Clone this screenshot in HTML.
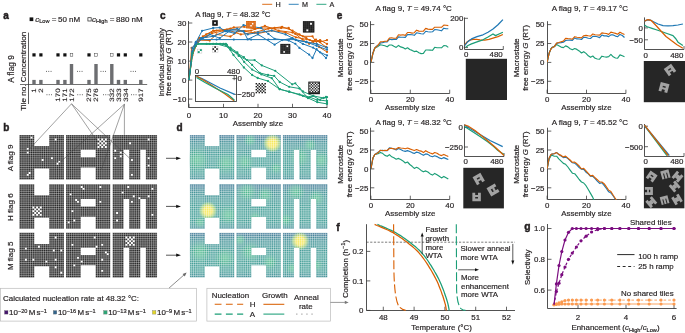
<!DOCTYPE html>
<html><head><meta charset="utf-8"><style>
html,body{margin:0;padding:0;background:#fff;}
svg{display:block;font-family:"Liberation Sans", sans-serif;will-change:transform;}
</style></head><body>
<svg width="685" height="333" viewBox="0 0 685 333">
<rect width="685" height="333" fill="#fff"/>
<text x="3.2" y="19" font-size="10" text-anchor="start" font-weight="bold" stroke="#231f20" stroke-width="0.45" fill="#231f20">a</text>
<rect x="29.6" y="17.4" width="3.7" height="3.7" fill="#111"/>
<text x="35.2" y="21.6" font-size="8" text-anchor="start" stroke="#231f20" stroke-width="0.18" fill="#231f20"><tspan font-style="italic">c</tspan><tspan font-size="5.6" dy="1.8">Low</tspan><tspan dy="-1.8" dx="0.6"> = 50 nM</tspan></text>
<rect x="87.9" y="17.7" width="3.3" height="3.3" fill="none" stroke="#333" stroke-width="0.75"/>
<text x="92.0" y="21.6" font-size="8" text-anchor="start" stroke="#231f20" stroke-width="0.18" fill="#231f20"><tspan font-style="italic">c</tspan><tspan font-size="5.6" dy="1.8">High</tspan><tspan dy="-1.8" dx="0.6"> = 880 nM</tspan></text>
<line x1="28.5" y1="32.6" x2="28.5" y2="104" stroke="#333" stroke-width="0.8"/>
<line x1="20" y1="84.5" x2="147.2" y2="84.5" stroke="#333" stroke-width="0.7"/>
<text x="26.1" y="82.2" font-size="8.1" text-anchor="start" stroke="#231f20" stroke-width="0.18" fill="#231f20" transform="rotate(-90 26.1 82.2)">Concentration</text>
<text x="26.1" y="110.8" font-size="8.1" text-anchor="start" stroke="#231f20" stroke-width="0.18" fill="#231f20" transform="rotate(-90 26.1 110.8)">Tile no.</text>
<text x="14.2" y="82.8" font-size="8.3" text-anchor="start" stroke="#231f20" stroke-width="0.18" fill="#231f20" transform="rotate(-90 14.2 82.8)">A flag 9</text>
<rect x="32.3" y="79.9" width="3.4" height="4.5" fill="#6d6e71"/>
<rect x="32.4" y="53.3" width="3.2" height="3.2" fill="#111"/>
<text x="0" y="0" font-size="6.3" text-anchor="end" fill="#231f20" stroke="#231f20" stroke-width="0.12" text-rendering="geometricPrecision" transform="translate(36.3 88.4) rotate(-90) scale(1.27 1)">1</text>
<rect x="39.2" y="79.9" width="3.4" height="4.5" fill="#6d6e71"/>
<rect x="39.3" y="53.3" width="3.2" height="3.2" fill="#111"/>
<text x="0" y="0" font-size="6.3" text-anchor="end" fill="#231f20" stroke="#231f20" stroke-width="0.12" text-rendering="geometricPrecision" transform="translate(43.2 88.4) rotate(-90) scale(1.27 1)">2</text>
<rect x="56.3" y="79.9" width="3.4" height="4.5" fill="#6d6e71"/>
<rect x="56.4" y="53.3" width="3.2" height="3.2" fill="#111"/>
<text x="0" y="0" font-size="6.3" text-anchor="end" fill="#231f20" stroke="#231f20" stroke-width="0.12" text-rendering="geometricPrecision" transform="translate(60.3 88.4) rotate(-90) scale(1.27 1)">170</text>
<rect x="63.2" y="79.9" width="3.4" height="4.5" fill="#6d6e71"/>
<rect x="63.3" y="53.3" width="3.2" height="3.2" fill="#111"/>
<text x="0" y="0" font-size="6.3" text-anchor="end" fill="#231f20" stroke="#231f20" stroke-width="0.12" text-rendering="geometricPrecision" transform="translate(67.2 88.4) rotate(-90) scale(1.27 1)">171</text>
<rect x="69.8" y="64" width="3.4" height="20.4" fill="#6d6e71"/>
<rect x="70.2" y="53.6" width="2.6" height="2.6" fill="none" stroke="#444" stroke-width="0.5"/>
<text x="0" y="0" font-size="6.3" text-anchor="end" fill="#231f20" stroke="#231f20" stroke-width="0.12" text-rendering="geometricPrecision" transform="translate(73.8 88.4) rotate(-90) scale(1.27 1)">172</text>
<rect x="87.3" y="79.9" width="3.4" height="4.5" fill="#6d6e71"/>
<rect x="87.4" y="53.3" width="3.2" height="3.2" fill="#111"/>
<text x="0" y="0" font-size="6.3" text-anchor="end" fill="#231f20" stroke="#231f20" stroke-width="0.12" text-rendering="geometricPrecision" transform="translate(91.3 88.4) rotate(-90) scale(1.27 1)">275</text>
<rect x="94.3" y="64" width="3.4" height="20.4" fill="#6d6e71"/>
<rect x="94.7" y="53.6" width="2.6" height="2.6" fill="none" stroke="#444" stroke-width="0.5"/>
<text x="0" y="0" font-size="6.3" text-anchor="end" fill="#231f20" stroke="#231f20" stroke-width="0.12" text-rendering="geometricPrecision" transform="translate(98.3 88.4) rotate(-90) scale(1.27 1)">276</text>
<rect x="110.1" y="64" width="3.4" height="20.4" fill="#6d6e71"/>
<rect x="110.5" y="53.6" width="2.6" height="2.6" fill="none" stroke="#444" stroke-width="0.5"/>
<text x="0" y="0" font-size="6.3" text-anchor="end" fill="#231f20" stroke="#231f20" stroke-width="0.12" text-rendering="geometricPrecision" transform="translate(114.1 88.4) rotate(-90) scale(1.27 1)">332</text>
<rect x="116.8" y="79.9" width="3.4" height="4.5" fill="#6d6e71"/>
<rect x="116.9" y="53.3" width="3.2" height="3.2" fill="#111"/>
<text x="0" y="0" font-size="6.3" text-anchor="end" fill="#231f20" stroke="#231f20" stroke-width="0.12" text-rendering="geometricPrecision" transform="translate(120.8 88.4) rotate(-90) scale(1.27 1)">333</text>
<rect x="123.6" y="79.9" width="3.4" height="4.5" fill="#6d6e71"/>
<rect x="123.7" y="53.3" width="3.2" height="3.2" fill="#111"/>
<text x="0" y="0" font-size="6.3" text-anchor="end" fill="#231f20" stroke="#231f20" stroke-width="0.12" text-rendering="geometricPrecision" transform="translate(127.6 88.4) rotate(-90) scale(1.27 1)">334</text>
<rect x="139.1" y="79.9" width="3.4" height="4.5" fill="#6d6e71"/>
<rect x="139.2" y="53.3" width="3.2" height="3.2" fill="#111"/>
<text x="0" y="0" font-size="6.3" text-anchor="end" fill="#231f20" stroke="#231f20" stroke-width="0.12" text-rendering="geometricPrecision" transform="translate(143.1 88.4) rotate(-90) scale(1.27 1)">917</text>
<rect x="46.0" y="70.89999999999999" width="0.9" height="0.9" fill="#444"/>
<rect x="48.3" y="70.89999999999999" width="0.9" height="0.9" fill="#444"/>
<rect x="50.6" y="70.89999999999999" width="0.9" height="0.9" fill="#444"/>
<rect x="77.0" y="70.89999999999999" width="0.9" height="0.9" fill="#444"/>
<rect x="79.3" y="70.89999999999999" width="0.9" height="0.9" fill="#444"/>
<rect x="81.6" y="70.89999999999999" width="0.9" height="0.9" fill="#444"/>
<rect x="100.5" y="70.89999999999999" width="0.9" height="0.9" fill="#444"/>
<rect x="102.8" y="70.89999999999999" width="0.9" height="0.9" fill="#444"/>
<rect x="105.1" y="70.89999999999999" width="0.9" height="0.9" fill="#444"/>
<rect x="130.5" y="70.89999999999999" width="0.9" height="0.9" fill="#444"/>
<rect x="132.8" y="70.89999999999999" width="0.9" height="0.9" fill="#444"/>
<rect x="135.1" y="70.89999999999999" width="0.9" height="0.9" fill="#444"/>
<rect x="46.5" y="94.3" width="0.9" height="0.9" fill="#444"/>
<rect x="48.8" y="94.3" width="0.9" height="0.9" fill="#444"/>
<rect x="51.1" y="94.3" width="0.9" height="0.9" fill="#444"/>
<rect x="77.3" y="94.3" width="0.9" height="0.9" fill="#444"/>
<rect x="79.6" y="94.3" width="0.9" height="0.9" fill="#444"/>
<rect x="81.9" y="94.3" width="0.9" height="0.9" fill="#444"/>
<rect x="103.0" y="94.3" width="0.9" height="0.9" fill="#444"/>
<rect x="105.3" y="94.3" width="0.9" height="0.9" fill="#444"/>
<rect x="107.6" y="94.3" width="0.9" height="0.9" fill="#444"/>
<rect x="131.0" y="94.3" width="0.9" height="0.9" fill="#444"/>
<rect x="133.3" y="94.3" width="0.9" height="0.9" fill="#444"/>
<rect x="135.6" y="94.3" width="0.9" height="0.9" fill="#444"/>
<text x="3.2" y="131" font-size="10" text-anchor="start" font-weight="bold" stroke="#231f20" stroke-width="0.45" fill="#231f20">b</text>
<path d="M19.40,134.90H34.28V179.54H19.40ZM49.16,134.90H64.04V179.54H49.16ZM34.28,146.06H49.16V168.38H34.28ZM65.90,134.90H80.78V179.54H65.90ZM95.66,134.90H110.54V179.54H95.66ZM80.78,134.90H95.66V149.78H80.78ZM80.78,157.22H95.66V167.45H80.78ZM112.40,134.90H157.04V149.78H112.40ZM112.40,149.78H123.56V179.54H112.40ZM129.14,149.78H140.30V179.54H129.14ZM145.88,149.78H157.04V179.54H145.88Z" fill="#111"/>
<path d="M19.40,134.90v44.64M21.26,134.90v44.64M23.12,134.90v44.64M24.98,134.90v44.64M26.84,134.90v44.64M28.70,134.90v44.64M30.56,134.90v44.64M32.42,134.90v44.64M34.28,134.90v44.64M36.14,134.90v44.64M38.00,134.90v44.64M39.86,134.90v44.64M41.72,134.90v44.64M43.58,134.90v44.64M45.44,134.90v44.64M47.30,134.90v44.64M49.16,134.90v44.64M51.02,134.90v44.64M52.88,134.90v44.64M54.74,134.90v44.64M56.60,134.90v44.64M58.46,134.90v44.64M60.32,134.90v44.64M62.18,134.90v44.64M64.04,134.90v44.64M65.90,134.90v44.64M67.76,134.90v44.64M69.62,134.90v44.64M71.48,134.90v44.64M73.34,134.90v44.64M75.20,134.90v44.64M77.06,134.90v44.64M78.92,134.90v44.64M80.78,134.90v44.64M82.64,134.90v44.64M84.50,134.90v44.64M86.36,134.90v44.64M88.22,134.90v44.64M90.08,134.90v44.64M91.94,134.90v44.64M93.80,134.90v44.64M95.66,134.90v44.64M97.52,134.90v44.64M99.38,134.90v44.64M101.24,134.90v44.64M103.10,134.90v44.64M104.96,134.90v44.64M106.82,134.90v44.64M108.68,134.90v44.64M110.54,134.90v44.64M112.40,134.90v44.64M114.26,134.90v44.64M116.12,134.90v44.64M117.98,134.90v44.64M119.84,134.90v44.64M121.70,134.90v44.64M123.56,134.90v44.64M125.42,134.90v44.64M127.28,134.90v44.64M129.14,134.90v44.64M131.00,134.90v44.64M132.86,134.90v44.64M134.72,134.90v44.64M136.58,134.90v44.64M138.44,134.90v44.64M140.30,134.90v44.64M142.16,134.90v44.64M144.02,134.90v44.64M145.88,134.90v44.64M147.74,134.90v44.64M149.60,134.90v44.64M151.46,134.90v44.64M153.32,134.90v44.64M155.18,134.90v44.64M157.04,134.90v44.64M19.40,134.90h137.64M19.40,136.76h137.64M19.40,138.62h137.64M19.40,140.48h137.64M19.40,142.34h137.64M19.40,144.20h137.64M19.40,146.06h137.64M19.40,147.92h137.64M19.40,149.78h137.64M19.40,151.64h137.64M19.40,153.50h137.64M19.40,155.36h137.64M19.40,157.22h137.64M19.40,159.08h137.64M19.40,160.94h137.64M19.40,162.80h137.64M19.40,164.66h137.64M19.40,166.52h137.64M19.40,168.38h137.64M19.40,170.24h137.64M19.40,172.10h137.64M19.40,173.96h137.64M19.40,175.82h137.64M19.40,177.68h137.64M19.40,179.54h137.64" stroke="#fff" stroke-width="0.38" fill="none"/>
<path d="M30.56,136.76h1.86v1.86h-1.86ZM26.84,147.92h1.86v1.86h-1.86ZM26.84,151.64h1.86v1.86h-1.86ZM41.72,159.08h1.86v1.86h-1.86ZM51.02,157.22h1.86v1.86h-1.86ZM56.60,162.80h1.86v1.86h-1.86ZM58.46,160.94h1.86v1.86h-1.86ZM26.84,173.96h1.86v1.86h-1.86ZM28.70,172.10h1.86v1.86h-1.86ZM54.74,138.62h1.86v1.86h-1.86ZM129.14,142.34h1.86v1.86h-1.86ZM147.74,138.62h1.86v1.86h-1.86ZM114.26,149.78h1.86v1.86h-1.86ZM119.84,151.64h1.86v1.86h-1.86ZM114.26,157.22h1.86v1.86h-1.86ZM119.84,155.36h1.86v1.86h-1.86ZM131.00,159.08h1.86v1.86h-1.86ZM147.74,157.22h1.86v1.86h-1.86ZM147.74,164.66h1.86v1.86h-1.86ZM131.00,173.96h1.86v1.86h-1.86ZM97.52,138.62h1.86v1.86h-1.86ZM97.52,142.34h1.86v1.86h-1.86ZM97.52,146.06h1.86v1.86h-1.86ZM99.38,140.48h1.86v1.86h-1.86ZM99.38,144.20h1.86v1.86h-1.86ZM101.24,138.62h1.86v1.86h-1.86ZM101.24,142.34h1.86v1.86h-1.86ZM101.24,146.06h1.86v1.86h-1.86ZM103.10,140.48h1.86v1.86h-1.86ZM103.10,144.20h1.86v1.86h-1.86ZM104.96,138.62h1.86v1.86h-1.86ZM104.96,142.34h1.86v1.86h-1.86ZM104.96,146.06h1.86v1.86h-1.86Z" fill="#fff"/>
<rect x="64.04" y="134.4" width="1.86" height="45.64" fill="#fff"/>
<rect x="110.54" y="134.4" width="1.86" height="45.64" fill="#fff"/>
<text x="13.4" y="157.9" font-size="8" text-anchor="middle" stroke="#231f20" stroke-width="0.18" fill="#231f20" transform="rotate(-90 13.4 157.9)">A flag 9</text>
<line x1="166" y1="158.3" x2="177.5" y2="158.3" stroke="#111" stroke-width="0.7"/>
<path d="M176.2,156.70000000000002L181,158.3L176.2,159.9Z" fill="#111"/>
<path d="M19.40,184.20H34.28V228.84H19.40ZM49.16,184.20H64.04V228.84H49.16ZM34.28,195.36H49.16V217.68H34.28ZM65.90,184.20H80.78V228.84H65.90ZM95.66,184.20H110.54V228.84H95.66ZM80.78,184.20H95.66V199.08H80.78ZM80.78,206.52H95.66V216.75H80.78ZM112.40,184.20H157.04V199.08H112.40ZM112.40,199.08H123.56V228.84H112.40ZM129.14,199.08H140.30V228.84H129.14ZM145.88,199.08H157.04V228.84H145.88Z" fill="#111"/>
<path d="M19.40,184.20v44.64M21.26,184.20v44.64M23.12,184.20v44.64M24.98,184.20v44.64M26.84,184.20v44.64M28.70,184.20v44.64M30.56,184.20v44.64M32.42,184.20v44.64M34.28,184.20v44.64M36.14,184.20v44.64M38.00,184.20v44.64M39.86,184.20v44.64M41.72,184.20v44.64M43.58,184.20v44.64M45.44,184.20v44.64M47.30,184.20v44.64M49.16,184.20v44.64M51.02,184.20v44.64M52.88,184.20v44.64M54.74,184.20v44.64M56.60,184.20v44.64M58.46,184.20v44.64M60.32,184.20v44.64M62.18,184.20v44.64M64.04,184.20v44.64M65.90,184.20v44.64M67.76,184.20v44.64M69.62,184.20v44.64M71.48,184.20v44.64M73.34,184.20v44.64M75.20,184.20v44.64M77.06,184.20v44.64M78.92,184.20v44.64M80.78,184.20v44.64M82.64,184.20v44.64M84.50,184.20v44.64M86.36,184.20v44.64M88.22,184.20v44.64M90.08,184.20v44.64M91.94,184.20v44.64M93.80,184.20v44.64M95.66,184.20v44.64M97.52,184.20v44.64M99.38,184.20v44.64M101.24,184.20v44.64M103.10,184.20v44.64M104.96,184.20v44.64M106.82,184.20v44.64M108.68,184.20v44.64M110.54,184.20v44.64M112.40,184.20v44.64M114.26,184.20v44.64M116.12,184.20v44.64M117.98,184.20v44.64M119.84,184.20v44.64M121.70,184.20v44.64M123.56,184.20v44.64M125.42,184.20v44.64M127.28,184.20v44.64M129.14,184.20v44.64M131.00,184.20v44.64M132.86,184.20v44.64M134.72,184.20v44.64M136.58,184.20v44.64M138.44,184.20v44.64M140.30,184.20v44.64M142.16,184.20v44.64M144.02,184.20v44.64M145.88,184.20v44.64M147.74,184.20v44.64M149.60,184.20v44.64M151.46,184.20v44.64M153.32,184.20v44.64M155.18,184.20v44.64M157.04,184.20v44.64M19.40,184.20h137.64M19.40,186.06h137.64M19.40,187.92h137.64M19.40,189.78h137.64M19.40,191.64h137.64M19.40,193.50h137.64M19.40,195.36h137.64M19.40,197.22h137.64M19.40,199.08h137.64M19.40,200.94h137.64M19.40,202.80h137.64M19.40,204.66h137.64M19.40,206.52h137.64M19.40,208.38h137.64M19.40,210.24h137.64M19.40,212.10h137.64M19.40,213.96h137.64M19.40,215.82h137.64M19.40,217.68h137.64M19.40,219.54h137.64M19.40,221.40h137.64M19.40,223.26h137.64M19.40,225.12h137.64M19.40,226.98h137.64M19.40,228.84h137.64" stroke="#fff" stroke-width="0.38" fill="none"/>
<path d="M80.78,186.06h1.86v1.86h-1.86ZM82.64,187.92h1.86v1.86h-1.86ZM69.62,193.50h1.86v1.86h-1.86ZM99.38,186.06h1.86v1.86h-1.86ZM75.20,199.08h1.86v1.86h-1.86ZM77.06,200.94h1.86v1.86h-1.86ZM99.38,200.94h1.86v1.86h-1.86ZM71.48,210.24h1.86v1.86h-1.86ZM73.34,219.54h1.86v1.86h-1.86ZM67.76,221.40h1.86v1.86h-1.86ZM127.28,186.06h1.86v1.86h-1.86ZM151.46,187.92h1.86v1.86h-1.86ZM121.70,191.64h1.86v1.86h-1.86ZM132.86,195.36h1.86v1.86h-1.86ZM138.44,197.22h1.86v1.86h-1.86ZM147.74,195.36h1.86v1.86h-1.86ZM131.00,200.94h1.86v1.86h-1.86ZM116.12,212.10h1.86v1.86h-1.86ZM151.46,213.96h1.86v1.86h-1.86ZM116.12,219.54h1.86v1.86h-1.86ZM32.42,206.52h1.86v1.86h-1.86ZM32.42,210.24h1.86v1.86h-1.86ZM32.42,213.96h1.86v1.86h-1.86ZM34.28,208.38h1.86v1.86h-1.86ZM34.28,212.10h1.86v1.86h-1.86ZM36.14,206.52h1.86v1.86h-1.86ZM36.14,210.24h1.86v1.86h-1.86ZM36.14,213.96h1.86v1.86h-1.86ZM38.00,208.38h1.86v1.86h-1.86ZM38.00,212.10h1.86v1.86h-1.86ZM39.86,206.52h1.86v1.86h-1.86ZM39.86,210.24h1.86v1.86h-1.86ZM39.86,213.96h1.86v1.86h-1.86Z" fill="#fff"/>
<rect x="64.04" y="183.7" width="1.86" height="45.64" fill="#fff"/>
<rect x="110.54" y="183.7" width="1.86" height="45.64" fill="#fff"/>
<text x="13.4" y="207.2" font-size="8" text-anchor="middle" stroke="#231f20" stroke-width="0.18" fill="#231f20" transform="rotate(-90 13.4 207.2)">H flag 6</text>
<line x1="166" y1="206.4" x2="177.5" y2="206.4" stroke="#111" stroke-width="0.7"/>
<path d="M176.2,204.8L181,206.4L176.2,208.0Z" fill="#111"/>
<path d="M19.40,232.80H34.28V277.44H19.40ZM49.16,232.80H64.04V277.44H49.16ZM34.28,243.96H49.16V266.28H34.28ZM65.90,232.80H80.78V277.44H65.90ZM95.66,232.80H110.54V277.44H95.66ZM80.78,232.80H95.66V247.68H80.78ZM80.78,255.12H95.66V265.35H80.78ZM112.40,232.80H157.04V247.68H112.40ZM112.40,247.68H123.56V277.44H112.40ZM129.14,247.68H140.30V277.44H129.14ZM145.88,247.68H157.04V277.44H145.88Z" fill="#111"/>
<path d="M19.40,232.80v44.64M21.26,232.80v44.64M23.12,232.80v44.64M24.98,232.80v44.64M26.84,232.80v44.64M28.70,232.80v44.64M30.56,232.80v44.64M32.42,232.80v44.64M34.28,232.80v44.64M36.14,232.80v44.64M38.00,232.80v44.64M39.86,232.80v44.64M41.72,232.80v44.64M43.58,232.80v44.64M45.44,232.80v44.64M47.30,232.80v44.64M49.16,232.80v44.64M51.02,232.80v44.64M52.88,232.80v44.64M54.74,232.80v44.64M56.60,232.80v44.64M58.46,232.80v44.64M60.32,232.80v44.64M62.18,232.80v44.64M64.04,232.80v44.64M65.90,232.80v44.64M67.76,232.80v44.64M69.62,232.80v44.64M71.48,232.80v44.64M73.34,232.80v44.64M75.20,232.80v44.64M77.06,232.80v44.64M78.92,232.80v44.64M80.78,232.80v44.64M82.64,232.80v44.64M84.50,232.80v44.64M86.36,232.80v44.64M88.22,232.80v44.64M90.08,232.80v44.64M91.94,232.80v44.64M93.80,232.80v44.64M95.66,232.80v44.64M97.52,232.80v44.64M99.38,232.80v44.64M101.24,232.80v44.64M103.10,232.80v44.64M104.96,232.80v44.64M106.82,232.80v44.64M108.68,232.80v44.64M110.54,232.80v44.64M112.40,232.80v44.64M114.26,232.80v44.64M116.12,232.80v44.64M117.98,232.80v44.64M119.84,232.80v44.64M121.70,232.80v44.64M123.56,232.80v44.64M125.42,232.80v44.64M127.28,232.80v44.64M129.14,232.80v44.64M131.00,232.80v44.64M132.86,232.80v44.64M134.72,232.80v44.64M136.58,232.80v44.64M138.44,232.80v44.64M140.30,232.80v44.64M142.16,232.80v44.64M144.02,232.80v44.64M145.88,232.80v44.64M147.74,232.80v44.64M149.60,232.80v44.64M151.46,232.80v44.64M153.32,232.80v44.64M155.18,232.80v44.64M157.04,232.80v44.64M19.40,232.80h137.64M19.40,234.66h137.64M19.40,236.52h137.64M19.40,238.38h137.64M19.40,240.24h137.64M19.40,242.10h137.64M19.40,243.96h137.64M19.40,245.82h137.64M19.40,247.68h137.64M19.40,249.54h137.64M19.40,251.40h137.64M19.40,253.26h137.64M19.40,255.12h137.64M19.40,256.98h137.64M19.40,258.84h137.64M19.40,260.70h137.64M19.40,262.56h137.64M19.40,264.42h137.64M19.40,266.28h137.64M19.40,268.14h137.64M19.40,270.00h137.64M19.40,271.86h137.64M19.40,273.72h137.64M19.40,275.58h137.64M19.40,277.44h137.64" stroke="#fff" stroke-width="0.38" fill="none"/>
<path d="M54.74,236.52h1.86v1.86h-1.86ZM38.00,245.82h1.86v1.86h-1.86ZM24.98,247.68h1.86v1.86h-1.86ZM52.88,249.54h1.86v1.86h-1.86ZM60.32,249.54h1.86v1.86h-1.86ZM24.98,258.84h1.86v1.86h-1.86ZM32.42,258.84h1.86v1.86h-1.86ZM45.44,260.70h1.86v1.86h-1.86ZM54.74,258.84h1.86v1.86h-1.86ZM54.74,266.28h1.86v1.86h-1.86ZM60.32,271.86h1.86v1.86h-1.86ZM71.48,243.96h1.86v1.86h-1.86ZM77.06,256.98h1.86v1.86h-1.86ZM80.78,260.70h1.86v1.86h-1.86ZM73.34,264.42h1.86v1.86h-1.86ZM93.80,236.52h1.86v1.86h-1.86ZM101.24,243.96h1.86v1.86h-1.86ZM95.66,245.82h1.86v1.86h-1.86ZM104.96,251.40h1.86v1.86h-1.86ZM106.82,253.26h1.86v1.86h-1.86ZM101.24,258.84h1.86v1.86h-1.86ZM101.24,270.00h1.86v1.86h-1.86ZM125.42,236.52h1.86v1.86h-1.86ZM125.42,240.24h1.86v1.86h-1.86ZM125.42,243.96h1.86v1.86h-1.86ZM127.28,238.38h1.86v1.86h-1.86ZM127.28,242.10h1.86v1.86h-1.86ZM129.14,236.52h1.86v1.86h-1.86ZM129.14,240.24h1.86v1.86h-1.86ZM129.14,243.96h1.86v1.86h-1.86ZM131.00,238.38h1.86v1.86h-1.86ZM131.00,242.10h1.86v1.86h-1.86ZM132.86,236.52h1.86v1.86h-1.86ZM132.86,240.24h1.86v1.86h-1.86ZM132.86,243.96h1.86v1.86h-1.86Z" fill="#fff"/>
<rect x="64.04" y="232.3" width="1.86" height="45.64" fill="#fff"/>
<rect x="110.54" y="232.3" width="1.86" height="45.64" fill="#fff"/>
<text x="13.4" y="255.8" font-size="8" text-anchor="middle" stroke="#231f20" stroke-width="0.18" fill="#231f20" transform="rotate(-90 13.4 255.8)">M flag 5</text>
<line x1="166" y1="255.2" x2="177.5" y2="255.2" stroke="#111" stroke-width="0.7"/>
<path d="M176.2,253.6L181,255.2L176.2,256.8Z" fill="#111"/>
<line x1="71.5" y1="103.8" x2="28.7" y2="149.9" stroke="#444" stroke-width="0.5"/>
<line x1="71.5" y1="103.8" x2="98.5" y2="143" stroke="#444" stroke-width="0.5"/>
<line x1="71.5" y1="103.8" x2="131.3" y2="159.8" stroke="#444" stroke-width="0.5"/>
<line x1="124.4" y1="104.2" x2="58.6" y2="163.6" stroke="#444" stroke-width="0.5"/>
<line x1="124.4" y1="104.2" x2="101.5" y2="169" stroke="#444" stroke-width="0.5"/>
<line x1="124.4" y1="104.2" x2="124.4" y2="134.9" stroke="#444" stroke-width="0.5"/>
<text x="160.0" y="18.6" font-size="10" text-anchor="start" font-weight="bold" stroke="#231f20" stroke-width="0.45" fill="#231f20">c</text>
<text x="195.2" y="16.6" font-size="7.9" text-anchor="start" stroke="#231f20" stroke-width="0.18" fill="#231f20">A flag 9, <tspan font-style="italic">T</tspan> = 48.32 °C</text>
<line x1="262.2" y1="4.3" x2="272.2" y2="4.3" stroke="#d95f02" stroke-width="0.9"/>
<text x="275.4" y="6.9" font-size="7.2" text-anchor="start" stroke="#231f20" stroke-width="0.18" fill="#231f20">H</text>
<line x1="288.7" y1="4.3" x2="298.7" y2="4.3" stroke="#1f78b4" stroke-width="0.9"/>
<text x="301.9" y="6.9" font-size="7.2" text-anchor="start" stroke="#231f20" stroke-width="0.18" fill="#231f20">M</text>
<line x1="316.4" y1="4.3" x2="326.4" y2="4.3" stroke="#1b9e77" stroke-width="0.9"/>
<text x="329.59999999999997" y="6.9" font-size="7.2" text-anchor="start" stroke="#231f20" stroke-width="0.18" fill="#231f20">A</text>
<path d="M188.5,21V107.5H327.3" fill="none" stroke="#333" stroke-width="0.85"/>
<line x1="188.5" y1="23.0" x2="192.3" y2="23.0" stroke="#333" stroke-width="0.75"/>
<text x="186.3" y="25.80999999999999" font-size="7.9" text-anchor="end" stroke="#231f20" stroke-width="0.18" fill="#231f20">30</text>
<line x1="188.5" y1="42.0" x2="192.3" y2="42.0" stroke="#333" stroke-width="0.75"/>
<text x="186.3" y="44.83999999999999" font-size="7.9" text-anchor="end" stroke="#231f20" stroke-width="0.18" fill="#231f20">20</text>
<line x1="188.5" y1="61.1" x2="192.3" y2="61.1" stroke="#333" stroke-width="0.75"/>
<text x="186.3" y="63.86999999999999" font-size="7.9" text-anchor="end" stroke="#231f20" stroke-width="0.18" fill="#231f20">10</text>
<line x1="188.5" y1="80.1" x2="192.3" y2="80.1" stroke="#333" stroke-width="0.75"/>
<text x="186.3" y="82.89999999999999" font-size="7.9" text-anchor="end" stroke="#231f20" stroke-width="0.18" fill="#231f20">0</text>
<line x1="188.5" y1="99.1" x2="192.3" y2="99.1" stroke="#333" stroke-width="0.75"/>
<text x="186.3" y="101.92999999999999" font-size="7.9" text-anchor="end" stroke="#231f20" stroke-width="0.18" fill="#231f20">−10</text>
<line x1="189.0" y1="107.5" x2="189.0" y2="103.8" stroke="#333" stroke-width="0.75"/>
<text x="189.0" y="117.8" font-size="7.9" text-anchor="middle" stroke="#231f20" stroke-width="0.18" fill="#231f20">0</text>
<line x1="223.5" y1="107.5" x2="223.5" y2="103.8" stroke="#333" stroke-width="0.75"/>
<text x="223.5" y="117.8" font-size="7.9" text-anchor="middle" stroke="#231f20" stroke-width="0.18" fill="#231f20">10</text>
<line x1="258.0" y1="107.5" x2="258.0" y2="103.8" stroke="#333" stroke-width="0.75"/>
<text x="258.0" y="117.8" font-size="7.9" text-anchor="middle" stroke="#231f20" stroke-width="0.18" fill="#231f20">20</text>
<line x1="292.5" y1="107.5" x2="292.5" y2="103.8" stroke="#333" stroke-width="0.75"/>
<text x="292.5" y="117.8" font-size="7.9" text-anchor="middle" stroke="#231f20" stroke-width="0.18" fill="#231f20">30</text>
<line x1="327.0" y1="107.5" x2="327.0" y2="103.8" stroke="#333" stroke-width="0.75"/>
<text x="327.0" y="117.8" font-size="7.9" text-anchor="middle" stroke="#231f20" stroke-width="0.18" fill="#231f20">40</text>
<text x="258" y="125.8" font-size="7.9" text-anchor="middle" stroke="#231f20" stroke-width="0.18" fill="#231f20">Assembly size</text>
<text x="163.6" y="62.4" font-size="7.9" text-anchor="middle" stroke="#231f20" stroke-width="0.18" fill="#231f20" transform="rotate(-90 163.6 62.4)">Individual assembly</text>
<text x="171.3" y="62.7" font-size="7.9" text-anchor="middle" stroke="#231f20" stroke-width="0.18" fill="#231f20" transform="rotate(-90 171.3 62.7)">free energy <tspan font-style="italic">G</tspan> (RT)</text>
<polyline points="189.0,80.1 191.6,47.9 194.9,45.7 199.0,38.0 206.6,36.5 212.1,33.3 223.2,30.8 233.8,27.4 244.2,26.8 254.9,28.9 261.4,28.0 274.6,28.0 281.1,28.0 288.7,28.0 295.3,33.9 302.5,39.6 309.1,43.8 316.0,39.6 326.0,47.0" fill="none" stroke="#d95f02" stroke-width="1.0" stroke-linejoin="round"/>
<circle cx="191.6" cy="47.9" r="1.15" fill="#d95f02"/>
<circle cx="194.9" cy="45.7" r="1.15" fill="#d95f02"/>
<circle cx="199.0" cy="38.0" r="1.15" fill="#d95f02"/>
<circle cx="206.6" cy="36.5" r="1.15" fill="#d95f02"/>
<circle cx="212.1" cy="33.3" r="1.15" fill="#d95f02"/>
<circle cx="223.2" cy="30.8" r="1.15" fill="#d95f02"/>
<circle cx="233.8" cy="27.4" r="1.15" fill="#d95f02"/>
<circle cx="244.2" cy="26.8" r="1.15" fill="#d95f02"/>
<circle cx="254.9" cy="28.9" r="1.15" fill="#d95f02"/>
<circle cx="261.4" cy="28.0" r="1.15" fill="#d95f02"/>
<circle cx="274.6" cy="28.0" r="1.15" fill="#d95f02"/>
<circle cx="281.1" cy="28.0" r="1.15" fill="#d95f02"/>
<circle cx="288.7" cy="28.0" r="1.15" fill="#d95f02"/>
<circle cx="295.3" cy="33.9" r="1.15" fill="#d95f02"/>
<circle cx="302.5" cy="39.6" r="1.15" fill="#d95f02"/>
<circle cx="309.1" cy="43.8" r="1.15" fill="#d95f02"/>
<circle cx="316.0" cy="39.6" r="1.15" fill="#d95f02"/>
<circle cx="326.0" cy="47.0" r="1.15" fill="#d95f02"/>
<polyline points="189.0,80.1 192.4,51.6 195.9,43.9 199.3,40.1 209.7,40.5 216.6,34.4 230.4,36.5 238.7,31.2 251.1,30.6 264.9,25.9 278.7,30.6 292.5,32.5 302.9,36.3 312.5,36.3 319.1,47.0 327.0,51.9" fill="none" stroke="#d95f02" stroke-width="1.0" stroke-linejoin="round"/>
<circle cx="192.4" cy="51.6" r="1.15" fill="#d95f02"/>
<circle cx="195.9" cy="43.9" r="1.15" fill="#d95f02"/>
<circle cx="199.3" cy="40.1" r="1.15" fill="#d95f02"/>
<circle cx="209.7" cy="40.5" r="1.15" fill="#d95f02"/>
<circle cx="216.6" cy="34.4" r="1.15" fill="#d95f02"/>
<circle cx="230.4" cy="36.5" r="1.15" fill="#d95f02"/>
<circle cx="238.7" cy="31.2" r="1.15" fill="#d95f02"/>
<circle cx="251.1" cy="30.6" r="1.15" fill="#d95f02"/>
<circle cx="264.9" cy="25.9" r="1.15" fill="#d95f02"/>
<circle cx="278.7" cy="30.6" r="1.15" fill="#d95f02"/>
<circle cx="292.5" cy="32.5" r="1.15" fill="#d95f02"/>
<circle cx="302.9" cy="36.3" r="1.15" fill="#d95f02"/>
<circle cx="312.5" cy="36.3" r="1.15" fill="#d95f02"/>
<circle cx="319.1" cy="47.0" r="1.15" fill="#d95f02"/>
<circle cx="327.0" cy="51.9" r="1.15" fill="#d95f02"/>
<polyline points="189.0,80.1 192.4,53.5 195.9,45.8 202.8,36.3 213.2,30.6 226.9,29.7 240.8,34.4 254.6,32.5 268.4,28.7 282.1,26.8 292.5,30.6 299.4,34.4 306.3,38.2 313.2,42.0 320.1,40.1 327.0,43.9" fill="none" stroke="#d95f02" stroke-width="1.0" stroke-linejoin="round"/>
<circle cx="192.4" cy="53.5" r="1.15" fill="#d95f02"/>
<circle cx="195.9" cy="45.8" r="1.15" fill="#d95f02"/>
<circle cx="202.8" cy="36.3" r="1.15" fill="#d95f02"/>
<circle cx="213.2" cy="30.6" r="1.15" fill="#d95f02"/>
<circle cx="226.9" cy="29.7" r="1.15" fill="#d95f02"/>
<circle cx="240.8" cy="34.4" r="1.15" fill="#d95f02"/>
<circle cx="254.6" cy="32.5" r="1.15" fill="#d95f02"/>
<circle cx="268.4" cy="28.7" r="1.15" fill="#d95f02"/>
<circle cx="282.1" cy="26.8" r="1.15" fill="#d95f02"/>
<circle cx="292.5" cy="30.6" r="1.15" fill="#d95f02"/>
<circle cx="299.4" cy="34.4" r="1.15" fill="#d95f02"/>
<circle cx="306.3" cy="38.2" r="1.15" fill="#d95f02"/>
<circle cx="313.2" cy="42.0" r="1.15" fill="#d95f02"/>
<circle cx="320.1" cy="40.1" r="1.15" fill="#d95f02"/>
<circle cx="327.0" cy="43.9" r="1.15" fill="#d95f02"/>
<polyline points="189.0,80.1 192.4,55.4 197.6,42.0 206.2,34.4 216.6,30.6 230.4,28.7 244.5,31.2 258.0,33.5 271.8,30.6 285.6,32.5 295.9,37.3 309.8,40.1 320.1,42.0 327.0,40.1" fill="none" stroke="#d95f02" stroke-width="1.0" stroke-linejoin="round"/>
<circle cx="192.4" cy="55.4" r="1.15" fill="#d95f02"/>
<circle cx="197.6" cy="42.0" r="1.15" fill="#d95f02"/>
<circle cx="206.2" cy="34.4" r="1.15" fill="#d95f02"/>
<circle cx="216.6" cy="30.6" r="1.15" fill="#d95f02"/>
<circle cx="230.4" cy="28.7" r="1.15" fill="#d95f02"/>
<circle cx="244.5" cy="31.2" r="1.15" fill="#d95f02"/>
<circle cx="258.0" cy="33.5" r="1.15" fill="#d95f02"/>
<circle cx="271.8" cy="30.6" r="1.15" fill="#d95f02"/>
<circle cx="285.6" cy="32.5" r="1.15" fill="#d95f02"/>
<circle cx="295.9" cy="37.3" r="1.15" fill="#d95f02"/>
<circle cx="309.8" cy="40.1" r="1.15" fill="#d95f02"/>
<circle cx="320.1" cy="42.0" r="1.15" fill="#d95f02"/>
<circle cx="327.0" cy="40.1" r="1.15" fill="#d95f02"/>
<polyline points="189.0,80.1 192.4,47.9 195.6,43.0 202.1,30.8 213.2,28.0 219.7,27.6 225.6,31.2 234.5,33.3 243.5,25.1 261.1,28.0 268.4,33.9 274.6,38.8 288.7,40.5 295.3,43.8 299.4,47.9 309.1,54.6 312.5,58.0 316.6,49.1 326.0,58.0" fill="none" stroke="#1f78b4" stroke-width="1.0" stroke-linejoin="round"/>
<circle cx="192.4" cy="47.9" r="1.15" fill="#1f78b4"/>
<circle cx="195.6" cy="43.0" r="1.15" fill="#1f78b4"/>
<circle cx="202.1" cy="30.8" r="1.15" fill="#1f78b4"/>
<circle cx="213.2" cy="28.0" r="1.15" fill="#1f78b4"/>
<circle cx="219.7" cy="27.6" r="1.15" fill="#1f78b4"/>
<circle cx="225.6" cy="31.2" r="1.15" fill="#1f78b4"/>
<circle cx="234.5" cy="33.3" r="1.15" fill="#1f78b4"/>
<circle cx="243.5" cy="25.1" r="1.15" fill="#1f78b4"/>
<circle cx="261.1" cy="28.0" r="1.15" fill="#1f78b4"/>
<circle cx="268.4" cy="33.9" r="1.15" fill="#1f78b4"/>
<circle cx="274.6" cy="38.8" r="1.15" fill="#1f78b4"/>
<circle cx="288.7" cy="40.5" r="1.15" fill="#1f78b4"/>
<circle cx="295.3" cy="43.8" r="1.15" fill="#1f78b4"/>
<circle cx="299.4" cy="47.9" r="1.15" fill="#1f78b4"/>
<circle cx="309.1" cy="54.6" r="1.15" fill="#1f78b4"/>
<circle cx="312.5" cy="58.0" r="1.15" fill="#1f78b4"/>
<circle cx="316.6" cy="49.1" r="1.15" fill="#1f78b4"/>
<circle cx="326.0" cy="58.0" r="1.15" fill="#1f78b4"/>
<polyline points="189.0,80.1 192.4,51.6 195.9,43.9 202.8,38.2 209.7,34.4 219.7,38.2 229.7,30.8 243.5,31.2 247.7,39.4 258.0,34.4 274.6,44.7 282.1,40.1 292.5,38.2 302.9,43.9 313.2,47.7 320.1,52.3 327.0,55.4" fill="none" stroke="#1f78b4" stroke-width="1.0" stroke-linejoin="round"/>
<circle cx="192.4" cy="51.6" r="1.15" fill="#1f78b4"/>
<circle cx="195.9" cy="43.9" r="1.15" fill="#1f78b4"/>
<circle cx="202.8" cy="38.2" r="1.15" fill="#1f78b4"/>
<circle cx="209.7" cy="34.4" r="1.15" fill="#1f78b4"/>
<circle cx="219.7" cy="38.2" r="1.15" fill="#1f78b4"/>
<circle cx="229.7" cy="30.8" r="1.15" fill="#1f78b4"/>
<circle cx="243.5" cy="31.2" r="1.15" fill="#1f78b4"/>
<circle cx="247.7" cy="39.4" r="1.15" fill="#1f78b4"/>
<circle cx="258.0" cy="34.4" r="1.15" fill="#1f78b4"/>
<circle cx="274.6" cy="44.7" r="1.15" fill="#1f78b4"/>
<circle cx="282.1" cy="40.1" r="1.15" fill="#1f78b4"/>
<circle cx="292.5" cy="38.2" r="1.15" fill="#1f78b4"/>
<circle cx="302.9" cy="43.9" r="1.15" fill="#1f78b4"/>
<circle cx="313.2" cy="47.7" r="1.15" fill="#1f78b4"/>
<circle cx="320.1" cy="52.3" r="1.15" fill="#1f78b4"/>
<circle cx="327.0" cy="55.4" r="1.15" fill="#1f78b4"/>
<polyline points="189.0,80.1 192.4,53.5 195.9,42.0 201.1,38.2 213.2,36.3 226.9,30.6 237.3,28.7 247.7,34.4 258.0,32.5 271.8,30.6 285.6,34.4 295.9,40.1 306.3,42.0 316.6,45.8 327.0,49.7" fill="none" stroke="#1f78b4" stroke-width="1.0" stroke-linejoin="round"/>
<circle cx="192.4" cy="53.5" r="1.15" fill="#1f78b4"/>
<circle cx="195.9" cy="42.0" r="1.15" fill="#1f78b4"/>
<circle cx="201.1" cy="38.2" r="1.15" fill="#1f78b4"/>
<circle cx="213.2" cy="36.3" r="1.15" fill="#1f78b4"/>
<circle cx="226.9" cy="30.6" r="1.15" fill="#1f78b4"/>
<circle cx="237.3" cy="28.7" r="1.15" fill="#1f78b4"/>
<circle cx="247.7" cy="34.4" r="1.15" fill="#1f78b4"/>
<circle cx="258.0" cy="32.5" r="1.15" fill="#1f78b4"/>
<circle cx="271.8" cy="30.6" r="1.15" fill="#1f78b4"/>
<circle cx="285.6" cy="34.4" r="1.15" fill="#1f78b4"/>
<circle cx="295.9" cy="40.1" r="1.15" fill="#1f78b4"/>
<circle cx="306.3" cy="42.0" r="1.15" fill="#1f78b4"/>
<circle cx="316.6" cy="45.8" r="1.15" fill="#1f78b4"/>
<circle cx="327.0" cy="49.7" r="1.15" fill="#1f78b4"/>
<polyline points="199.3,39.6 216.6,39.6 233.8,39.6 251.1,39.6 268.4,39.6 295.3,39.6 306.3,42.0 316.6,43.9 327.0,47.7" fill="none" stroke="#1f78b4" stroke-width="1.0" stroke-linejoin="round"/>
<circle cx="216.6" cy="39.6" r="1.15" fill="#1f78b4"/>
<circle cx="233.8" cy="39.6" r="1.15" fill="#1f78b4"/>
<circle cx="251.1" cy="39.6" r="1.15" fill="#1f78b4"/>
<circle cx="268.4" cy="39.6" r="1.15" fill="#1f78b4"/>
<circle cx="295.3" cy="39.6" r="1.15" fill="#1f78b4"/>
<circle cx="306.3" cy="42.0" r="1.15" fill="#1f78b4"/>
<circle cx="316.6" cy="43.9" r="1.15" fill="#1f78b4"/>
<circle cx="327.0" cy="47.7" r="1.15" fill="#1f78b4"/>
<polyline points="189.0,80.1 192.4,53.5 195.9,45.8 198.3,43.9 206.6,43.9 216.3,43.9 225.9,43.8 233.5,55.0 243.9,67.5 252.1,75.0 257.7,78.0 268.0,81.1 279.7,89.2 289.1,91.7 302.9,95.9 308.0,98.0 317.3,102.2 327.0,103.9" fill="none" stroke="#1b9e77" stroke-width="1.0" stroke-linejoin="round"/>
<circle cx="192.4" cy="53.5" r="1.15" fill="#1b9e77"/>
<circle cx="195.9" cy="45.8" r="1.15" fill="#1b9e77"/>
<circle cx="198.3" cy="43.9" r="1.15" fill="#1b9e77"/>
<circle cx="206.6" cy="43.9" r="1.15" fill="#1b9e77"/>
<circle cx="216.3" cy="43.9" r="1.15" fill="#1b9e77"/>
<circle cx="225.9" cy="43.8" r="1.15" fill="#1b9e77"/>
<circle cx="233.5" cy="55.0" r="1.15" fill="#1b9e77"/>
<circle cx="243.9" cy="67.5" r="1.15" fill="#1b9e77"/>
<circle cx="252.1" cy="75.0" r="1.15" fill="#1b9e77"/>
<circle cx="257.7" cy="78.0" r="1.15" fill="#1b9e77"/>
<circle cx="268.0" cy="81.1" r="1.15" fill="#1b9e77"/>
<circle cx="279.7" cy="89.2" r="1.15" fill="#1b9e77"/>
<circle cx="289.1" cy="91.7" r="1.15" fill="#1b9e77"/>
<circle cx="302.9" cy="95.9" r="1.15" fill="#1b9e77"/>
<circle cx="308.0" cy="98.0" r="1.15" fill="#1b9e77"/>
<circle cx="317.3" cy="102.2" r="1.15" fill="#1b9e77"/>
<circle cx="327.0" cy="103.9" r="1.15" fill="#1b9e77"/>
<polyline points="199.3,43.9 209.7,43.9 220.1,43.9 226.9,44.9 238.7,55.9 247.0,60.1 254.6,60.1 261.8,65.4 275.2,70.8 292.2,84.3 295.3,83.3 302.9,91.5 313.2,95.9 323.6,98.0 327.0,97.2" fill="none" stroke="#1b9e77" stroke-width="1.0" stroke-linejoin="round"/>
<circle cx="209.7" cy="43.9" r="1.15" fill="#1b9e77"/>
<circle cx="220.1" cy="43.9" r="1.15" fill="#1b9e77"/>
<circle cx="226.9" cy="44.9" r="1.15" fill="#1b9e77"/>
<circle cx="238.7" cy="55.9" r="1.15" fill="#1b9e77"/>
<circle cx="247.0" cy="60.1" r="1.15" fill="#1b9e77"/>
<circle cx="254.6" cy="60.1" r="1.15" fill="#1b9e77"/>
<circle cx="261.8" cy="65.4" r="1.15" fill="#1b9e77"/>
<circle cx="275.2" cy="70.8" r="1.15" fill="#1b9e77"/>
<circle cx="292.2" cy="84.3" r="1.15" fill="#1b9e77"/>
<circle cx="295.3" cy="83.3" r="1.15" fill="#1b9e77"/>
<circle cx="302.9" cy="91.5" r="1.15" fill="#1b9e77"/>
<circle cx="313.2" cy="95.9" r="1.15" fill="#1b9e77"/>
<circle cx="323.6" cy="98.0" r="1.15" fill="#1b9e77"/>
<circle cx="327.0" cy="97.2" r="1.15" fill="#1b9e77"/>
<polyline points="199.3,43.9 213.2,43.9 223.5,43.9 230.4,49.7 243.9,57.1 252.1,64.9 259.7,72.9 268.0,75.0 274.2,75.9 279.7,82.0 289.1,86.8 299.4,88.5 308.0,98.0 313.2,95.9 320.1,100.1 327.0,101.0" fill="none" stroke="#1b9e77" stroke-width="1.0" stroke-linejoin="round"/>
<circle cx="213.2" cy="43.9" r="1.15" fill="#1b9e77"/>
<circle cx="223.5" cy="43.9" r="1.15" fill="#1b9e77"/>
<circle cx="230.4" cy="49.7" r="1.15" fill="#1b9e77"/>
<circle cx="243.9" cy="57.1" r="1.15" fill="#1b9e77"/>
<circle cx="252.1" cy="64.9" r="1.15" fill="#1b9e77"/>
<circle cx="259.7" cy="72.9" r="1.15" fill="#1b9e77"/>
<circle cx="268.0" cy="75.0" r="1.15" fill="#1b9e77"/>
<circle cx="274.2" cy="75.9" r="1.15" fill="#1b9e77"/>
<circle cx="279.7" cy="82.0" r="1.15" fill="#1b9e77"/>
<circle cx="289.1" cy="86.8" r="1.15" fill="#1b9e77"/>
<circle cx="299.4" cy="88.5" r="1.15" fill="#1b9e77"/>
<circle cx="308.0" cy="98.0" r="1.15" fill="#1b9e77"/>
<circle cx="313.2" cy="95.9" r="1.15" fill="#1b9e77"/>
<circle cx="320.1" cy="100.1" r="1.15" fill="#1b9e77"/>
<circle cx="327.0" cy="101.0" r="1.15" fill="#1b9e77"/>
<polyline points="199.3,43.9 216.6,43.9 230.4,47.7 237.3,52.5 244.2,62.0 252.1,69.6 261.4,74.4 271.8,78.2 279.7,89.2 289.1,91.7 299.4,94.4 309.8,97.2 317.3,100.1 326.0,97.0 327.0,102.9" fill="none" stroke="#1b9e77" stroke-width="1.0" stroke-linejoin="round"/>
<circle cx="216.6" cy="43.9" r="1.15" fill="#1b9e77"/>
<circle cx="230.4" cy="47.7" r="1.15" fill="#1b9e77"/>
<circle cx="237.3" cy="52.5" r="1.15" fill="#1b9e77"/>
<circle cx="244.2" cy="62.0" r="1.15" fill="#1b9e77"/>
<circle cx="252.1" cy="69.6" r="1.15" fill="#1b9e77"/>
<circle cx="261.4" cy="74.4" r="1.15" fill="#1b9e77"/>
<circle cx="271.8" cy="78.2" r="1.15" fill="#1b9e77"/>
<circle cx="279.7" cy="89.2" r="1.15" fill="#1b9e77"/>
<circle cx="289.1" cy="91.7" r="1.15" fill="#1b9e77"/>
<circle cx="299.4" cy="94.4" r="1.15" fill="#1b9e77"/>
<circle cx="309.8" cy="97.2" r="1.15" fill="#1b9e77"/>
<circle cx="317.3" cy="100.1" r="1.15" fill="#1b9e77"/>
<circle cx="326.0" cy="97.0" r="1.15" fill="#1b9e77"/>
<circle cx="327.0" cy="102.9" r="1.15" fill="#1b9e77"/>
<rect x="195.5" y="75.5" width="41" height="26" fill="#fff" stroke="#333" stroke-width="0.85"/>
<line x1="234.2" y1="75.5" x2="234.2" y2="80.2" stroke="#333" stroke-width="0.7"/>
<line x1="236.5" y1="78.6" x2="232.4" y2="78.6" stroke="#333" stroke-width="0.7"/>
<line x1="236.5" y1="94.4" x2="233.6" y2="94.4" stroke="#333" stroke-width="0.7"/>
<text x="197.0" y="73.6" font-size="7.9" text-anchor="middle" stroke="#231f20" stroke-width="0.18" fill="#231f20">0</text>
<text x="233.5" y="73.6" font-size="7.9" text-anchor="middle" stroke="#231f20" stroke-width="0.18" fill="#231f20">480</text>
<text x="237.6" y="81.4" font-size="7.9" text-anchor="start" stroke="#231f20" stroke-width="0.18" fill="#231f20">0</text>
<text x="237.2" y="97.3" font-size="7.9" text-anchor="start" stroke="#231f20" stroke-width="0.18" fill="#231f20">−250</text>
<polyline points="196.5,76.2 202,78.6 210,82.8 220,88 234.7,94.4" fill="none" stroke="#1f78b4" stroke-width="1.15"/>
<polyline points="196.5,76.2 205,81 215,87.5 225,94 234,100.8" fill="none" stroke="#d95f02" stroke-width="1.15"/>
<polyline points="196.5,77.5 205,82.5 215,88 225,93 228,94.5 232,98 234.7,100.4" fill="none" stroke="#1b9e77" stroke-width="1.15"/>
<rect x="212.2" y="20.2" width="5.6" height="5.6" fill="#1a1a1a"/>
<rect x="214.16" y="22.16" width="1.68" height="1.68" fill="#fff"/>
<rect x="212.4" y="46.2" width="5.6" height="6.0" fill="#fff" stroke="#aaa" stroke-width="0.35"/>
<rect x="214.35" y="46.30" width="1.6" height="1.6" fill="#111"/>
<rect x="212.50" y="48.25" width="1.6" height="1.6" fill="#111"/>
<rect x="216.20" y="48.25" width="1.6" height="1.6" fill="#111"/>
<rect x="214.35" y="50.20" width="1.6" height="1.6" fill="#111"/>
<rect x="197.7" y="49.1" width="4.2" height="4.0" fill="#fff" stroke="#aaa" stroke-width="0.35"/>
<rect x="199.9" y="49.2" width="1.9" height="1.8" fill="#1b9e77"/><rect x="197.8" y="51.1" width="1.9" height="1.9" fill="#1b9e77"/>
<rect x="302.9" y="21.1" width="11.5" height="11.5" fill="#1a1a1a"/>
<path d="M304.82,21.1v11.5M306.73,21.1v11.5M308.65,21.1v11.5M310.57,21.1v11.5M312.48,21.1v11.5M302.9,23.02h11.5M302.9,24.93h11.5M302.9,26.85h11.5M302.9,28.77h11.5M302.9,30.68h11.5" stroke="#666" stroke-width="0.3"/>
<rect x="310.03" y="22.83" width="1.92" height="1.92" fill="#fff"/>
<rect x="306.35" y="29.38" width="1.92" height="1.92" fill="#fff"/>
<rect x="280.3" y="43.9" width="10.0" height="10.0" fill="#1a1a1a"/>
<path d="M281.97,43.9v10.0M283.63,43.9v10.0M285.30,43.9v10.0M286.97,43.9v10.0M288.63,43.9v10.0M280.3,45.57h10.0M280.3,47.23h10.0M280.3,48.90h10.0M280.3,50.57h10.0M280.3,52.23h10.0" stroke="#666" stroke-width="0.3"/>
<rect x="286.50" y="45.40" width="1.67" height="1.67" fill="#fff"/>
<rect x="283.30" y="51.10" width="1.67" height="1.67" fill="#fff"/>
<rect x="255.6" y="83.0" width="10.3" height="10.3" fill="#fff"/>
<rect x="255.60" y="83.00" width="1.47" height="1.47" fill="#1a1a1a"/>
<rect x="255.60" y="85.94" width="1.47" height="1.47" fill="#1a1a1a"/>
<rect x="255.60" y="88.89" width="1.47" height="1.47" fill="#1a1a1a"/>
<rect x="255.60" y="91.83" width="1.47" height="1.47" fill="#1a1a1a"/>
<rect x="257.07" y="84.47" width="1.47" height="1.47" fill="#1a1a1a"/>
<rect x="257.07" y="87.41" width="1.47" height="1.47" fill="#1a1a1a"/>
<rect x="257.07" y="90.36" width="1.47" height="1.47" fill="#1a1a1a"/>
<rect x="258.54" y="83.00" width="1.47" height="1.47" fill="#1a1a1a"/>
<rect x="258.54" y="85.94" width="1.47" height="1.47" fill="#1a1a1a"/>
<rect x="258.54" y="88.89" width="1.47" height="1.47" fill="#1a1a1a"/>
<rect x="258.54" y="91.83" width="1.47" height="1.47" fill="#1a1a1a"/>
<rect x="260.01" y="84.47" width="1.47" height="1.47" fill="#1a1a1a"/>
<rect x="260.01" y="87.41" width="1.47" height="1.47" fill="#1a1a1a"/>
<rect x="260.01" y="90.36" width="1.47" height="1.47" fill="#1a1a1a"/>
<rect x="261.49" y="83.00" width="1.47" height="1.47" fill="#1a1a1a"/>
<rect x="261.49" y="85.94" width="1.47" height="1.47" fill="#1a1a1a"/>
<rect x="261.49" y="88.89" width="1.47" height="1.47" fill="#1a1a1a"/>
<rect x="261.49" y="91.83" width="1.47" height="1.47" fill="#1a1a1a"/>
<rect x="262.96" y="84.47" width="1.47" height="1.47" fill="#1a1a1a"/>
<rect x="262.96" y="87.41" width="1.47" height="1.47" fill="#1a1a1a"/>
<rect x="262.96" y="90.36" width="1.47" height="1.47" fill="#1a1a1a"/>
<rect x="264.43" y="83.00" width="1.47" height="1.47" fill="#1a1a1a"/>
<rect x="264.43" y="85.94" width="1.47" height="1.47" fill="#1a1a1a"/>
<rect x="264.43" y="88.89" width="1.47" height="1.47" fill="#1a1a1a"/>
<rect x="264.43" y="91.83" width="1.47" height="1.47" fill="#1a1a1a"/>
<rect x="308.3" y="81.6" width="11.6" height="12.6" fill="#1a1a1a"/>
<rect x="309.3" y="82.6" width="9.6" height="9.6" fill="#fff"/>
<rect x="309.30" y="82.60" width="1.37" height="1.37" fill="#1a1a1a"/>
<rect x="309.30" y="85.34" width="1.37" height="1.37" fill="#1a1a1a"/>
<rect x="309.30" y="88.09" width="1.37" height="1.37" fill="#1a1a1a"/>
<rect x="309.30" y="90.83" width="1.37" height="1.37" fill="#1a1a1a"/>
<rect x="310.67" y="83.97" width="1.37" height="1.37" fill="#1a1a1a"/>
<rect x="310.67" y="86.71" width="1.37" height="1.37" fill="#1a1a1a"/>
<rect x="310.67" y="89.46" width="1.37" height="1.37" fill="#1a1a1a"/>
<rect x="312.04" y="82.60" width="1.37" height="1.37" fill="#1a1a1a"/>
<rect x="312.04" y="85.34" width="1.37" height="1.37" fill="#1a1a1a"/>
<rect x="312.04" y="88.09" width="1.37" height="1.37" fill="#1a1a1a"/>
<rect x="312.04" y="90.83" width="1.37" height="1.37" fill="#1a1a1a"/>
<rect x="313.41" y="83.97" width="1.37" height="1.37" fill="#1a1a1a"/>
<rect x="313.41" y="86.71" width="1.37" height="1.37" fill="#1a1a1a"/>
<rect x="313.41" y="89.46" width="1.37" height="1.37" fill="#1a1a1a"/>
<rect x="314.79" y="82.60" width="1.37" height="1.37" fill="#1a1a1a"/>
<rect x="314.79" y="85.34" width="1.37" height="1.37" fill="#1a1a1a"/>
<rect x="314.79" y="88.09" width="1.37" height="1.37" fill="#1a1a1a"/>
<rect x="314.79" y="90.83" width="1.37" height="1.37" fill="#1a1a1a"/>
<rect x="316.16" y="83.97" width="1.37" height="1.37" fill="#1a1a1a"/>
<rect x="316.16" y="86.71" width="1.37" height="1.37" fill="#1a1a1a"/>
<rect x="316.16" y="89.46" width="1.37" height="1.37" fill="#1a1a1a"/>
<rect x="317.53" y="82.60" width="1.37" height="1.37" fill="#1a1a1a"/>
<rect x="317.53" y="85.34" width="1.37" height="1.37" fill="#1a1a1a"/>
<rect x="317.53" y="88.09" width="1.37" height="1.37" fill="#1a1a1a"/>
<rect x="317.53" y="90.83" width="1.37" height="1.37" fill="#1a1a1a"/>
<rect x="246.1" y="21.0" width="9.7" height="7.4" fill="#d95f02"/>
<path d="M247.72,21v7.4M249.34,21v7.4M250.96,21v7.4M252.58,21v7.4M254.20,21v7.4M246.1,22.48h9.7M246.1,23.96h9.7M246.1,25.44h9.7M246.1,26.92h9.7" stroke="#e9a070" stroke-width="0.3"/>
<rect x="251.9" y="23.0" width="1.5" height="1.5" fill="#fff"/><rect x="250.3" y="25.0" width="1.5" height="1.5" fill="#fff"/>
<text x="176.6" y="130.8" font-size="10" text-anchor="start" font-weight="bold" stroke="#231f20" stroke-width="0.45" fill="#231f20">d</text>
<defs>
<radialGradient id="yel"><stop offset="0" stop-color="#fbe83a"/><stop offset="0.45" stop-color="#f2e24a"/><stop offset="0.75" stop-color="#a8d65a" stop-opacity="0.7"/><stop offset="1" stop-color="#6cc07a" stop-opacity="0"/></radialGradient>
<radialGradient id="grn"><stop offset="0" stop-color="#3cb77e" stop-opacity="0.95"/><stop offset="0.5" stop-color="#35aa80" stop-opacity="0.7"/><stop offset="1" stop-color="#2fa080" stop-opacity="0"/></radialGradient>
<linearGradient id="topblue" x1="0" y1="0" x2="0" y2="1"><stop offset="0" stop-color="#33658f" stop-opacity="0.85"/><stop offset="0.18" stop-color="#33658f" stop-opacity="0.25"/><stop offset="0.5" stop-color="#33658f" stop-opacity="0"/><stop offset="0.85" stop-color="#33658f" stop-opacity="0"/><stop offset="1" stop-color="#33658f" stop-opacity="0.35"/></linearGradient>
</defs>
<clipPath id="hamclip0"><path d="M189.80,134.90H204.68V179.54H189.80ZM219.56,134.90H234.44V179.54H219.56ZM204.68,146.06H219.56V168.38H204.68ZM236.30,134.90H251.18V179.54H236.30ZM266.06,134.90H280.94V179.54H266.06ZM251.18,134.90H266.06V149.78H251.18ZM251.18,157.22H266.06V167.45H251.18ZM282.80,134.90H327.44V149.78H282.80ZM282.80,149.78H293.96V179.54H282.80ZM299.54,149.78H310.70V179.54H299.54ZM316.28,149.78H327.44V179.54H316.28Z"/></clipPath>
<g clip-path="url(#hamclip0)">
<rect x="189.8" y="134.9" width="137.64" height="44.64" fill="#2e948c"/>
<rect x="189.8" y="134.9" width="137.64" height="44.64" fill="url(#topblue)"/>
<circle cx="197" cy="160" r="13" fill="url(#grn)"/>
<circle cx="226" cy="163" r="11" fill="url(#grn)"/>
<circle cx="245" cy="162" r="9" fill="url(#grn)"/>
<circle cx="250" cy="140" r="7" fill="url(#grn)"/>
<circle cx="300" cy="157" r="11" fill="url(#grn)"/>
<circle cx="321" cy="160" r="9" fill="url(#grn)"/>
<circle cx="310" cy="145" r="7" fill="url(#grn)"/>
<circle cx="276" cy="168" r="6" fill="url(#grn)"/>
<circle cx="272.4" cy="143.2" r="9.5" fill="url(#yel)"/>
<path d="M189.80,134.90v44.64M191.66,134.90v44.64M193.52,134.90v44.64M195.38,134.90v44.64M197.24,134.90v44.64M199.10,134.90v44.64M200.96,134.90v44.64M202.82,134.90v44.64M204.68,134.90v44.64M206.54,134.90v44.64M208.40,134.90v44.64M210.26,134.90v44.64M212.12,134.90v44.64M213.98,134.90v44.64M215.84,134.90v44.64M217.70,134.90v44.64M219.56,134.90v44.64M221.42,134.90v44.64M223.28,134.90v44.64M225.14,134.90v44.64M227.00,134.90v44.64M228.86,134.90v44.64M230.72,134.90v44.64M232.58,134.90v44.64M234.44,134.90v44.64M236.30,134.90v44.64M238.16,134.90v44.64M240.02,134.90v44.64M241.88,134.90v44.64M243.74,134.90v44.64M245.60,134.90v44.64M247.46,134.90v44.64M249.32,134.90v44.64M251.18,134.90v44.64M253.04,134.90v44.64M254.90,134.90v44.64M256.76,134.90v44.64M258.62,134.90v44.64M260.48,134.90v44.64M262.34,134.90v44.64M264.20,134.90v44.64M266.06,134.90v44.64M267.92,134.90v44.64M269.78,134.90v44.64M271.64,134.90v44.64M273.50,134.90v44.64M275.36,134.90v44.64M277.22,134.90v44.64M279.08,134.90v44.64M280.94,134.90v44.64M282.80,134.90v44.64M284.66,134.90v44.64M286.52,134.90v44.64M288.38,134.90v44.64M290.24,134.90v44.64M292.10,134.90v44.64M293.96,134.90v44.64M295.82,134.90v44.64M297.68,134.90v44.64M299.54,134.90v44.64M301.40,134.90v44.64M303.26,134.90v44.64M305.12,134.90v44.64M306.98,134.90v44.64M308.84,134.90v44.64M310.70,134.90v44.64M312.56,134.90v44.64M314.42,134.90v44.64M316.28,134.90v44.64M318.14,134.90v44.64M320.00,134.90v44.64M321.86,134.90v44.64M323.72,134.90v44.64M325.58,134.90v44.64M327.44,134.90v44.64M189.80,134.90h137.64M189.80,136.76h137.64M189.80,138.62h137.64M189.80,140.48h137.64M189.80,142.34h137.64M189.80,144.20h137.64M189.80,146.06h137.64M189.80,147.92h137.64M189.80,149.78h137.64M189.80,151.64h137.64M189.80,153.50h137.64M189.80,155.36h137.64M189.80,157.22h137.64M189.80,159.08h137.64M189.80,160.94h137.64M189.80,162.80h137.64M189.80,164.66h137.64M189.80,166.52h137.64M189.80,168.38h137.64M189.80,170.24h137.64M189.80,172.10h137.64M189.80,173.96h137.64M189.80,175.82h137.64M189.80,177.68h137.64M189.80,179.54h137.64" stroke="#fff" stroke-width="0.46" fill="none"/>
</g>
<rect x="234.44" y="134.4" width="1.86" height="45.64" fill="#fff"/>
<rect x="280.94" y="134.4" width="1.86" height="45.64" fill="#fff"/>
<clipPath id="hamclip1"><path d="M189.80,184.20H204.68V228.84H189.80ZM219.56,184.20H234.44V228.84H219.56ZM204.68,195.36H219.56V217.68H204.68ZM236.30,184.20H251.18V228.84H236.30ZM266.06,184.20H280.94V228.84H266.06ZM251.18,184.20H266.06V199.08H251.18ZM251.18,206.52H266.06V216.75H251.18ZM282.80,184.20H327.44V199.08H282.80ZM282.80,199.08H293.96V228.84H282.80ZM299.54,199.08H310.70V228.84H299.54ZM316.28,199.08H327.44V228.84H316.28Z"/></clipPath>
<g clip-path="url(#hamclip1)">
<rect x="189.8" y="184.2" width="137.64" height="44.64" fill="#2e948c"/>
<rect x="189.8" y="184.2" width="137.64" height="44.64" fill="url(#topblue)"/>
<circle cx="247" cy="192" r="11" fill="url(#grn)"/>
<circle cx="265" cy="195" r="9" fill="url(#grn)"/>
<circle cx="296" cy="192" r="10" fill="url(#grn)"/>
<circle cx="316" cy="198" r="9" fill="url(#grn)"/>
<circle cx="228" cy="215" r="10" fill="url(#grn)"/>
<circle cx="200" cy="222" r="6" fill="url(#grn)"/>
<circle cx="286" cy="220" r="7" fill="url(#grn)"/>
<circle cx="255" cy="218" r="7" fill="url(#grn)"/>
<circle cx="208" cy="210.7" r="9.5" fill="url(#yel)"/>
<path d="M189.80,184.20v44.64M191.66,184.20v44.64M193.52,184.20v44.64M195.38,184.20v44.64M197.24,184.20v44.64M199.10,184.20v44.64M200.96,184.20v44.64M202.82,184.20v44.64M204.68,184.20v44.64M206.54,184.20v44.64M208.40,184.20v44.64M210.26,184.20v44.64M212.12,184.20v44.64M213.98,184.20v44.64M215.84,184.20v44.64M217.70,184.20v44.64M219.56,184.20v44.64M221.42,184.20v44.64M223.28,184.20v44.64M225.14,184.20v44.64M227.00,184.20v44.64M228.86,184.20v44.64M230.72,184.20v44.64M232.58,184.20v44.64M234.44,184.20v44.64M236.30,184.20v44.64M238.16,184.20v44.64M240.02,184.20v44.64M241.88,184.20v44.64M243.74,184.20v44.64M245.60,184.20v44.64M247.46,184.20v44.64M249.32,184.20v44.64M251.18,184.20v44.64M253.04,184.20v44.64M254.90,184.20v44.64M256.76,184.20v44.64M258.62,184.20v44.64M260.48,184.20v44.64M262.34,184.20v44.64M264.20,184.20v44.64M266.06,184.20v44.64M267.92,184.20v44.64M269.78,184.20v44.64M271.64,184.20v44.64M273.50,184.20v44.64M275.36,184.20v44.64M277.22,184.20v44.64M279.08,184.20v44.64M280.94,184.20v44.64M282.80,184.20v44.64M284.66,184.20v44.64M286.52,184.20v44.64M288.38,184.20v44.64M290.24,184.20v44.64M292.10,184.20v44.64M293.96,184.20v44.64M295.82,184.20v44.64M297.68,184.20v44.64M299.54,184.20v44.64M301.40,184.20v44.64M303.26,184.20v44.64M305.12,184.20v44.64M306.98,184.20v44.64M308.84,184.20v44.64M310.70,184.20v44.64M312.56,184.20v44.64M314.42,184.20v44.64M316.28,184.20v44.64M318.14,184.20v44.64M320.00,184.20v44.64M321.86,184.20v44.64M323.72,184.20v44.64M325.58,184.20v44.64M327.44,184.20v44.64M189.80,184.20h137.64M189.80,186.06h137.64M189.80,187.92h137.64M189.80,189.78h137.64M189.80,191.64h137.64M189.80,193.50h137.64M189.80,195.36h137.64M189.80,197.22h137.64M189.80,199.08h137.64M189.80,200.94h137.64M189.80,202.80h137.64M189.80,204.66h137.64M189.80,206.52h137.64M189.80,208.38h137.64M189.80,210.24h137.64M189.80,212.10h137.64M189.80,213.96h137.64M189.80,215.82h137.64M189.80,217.68h137.64M189.80,219.54h137.64M189.80,221.40h137.64M189.80,223.26h137.64M189.80,225.12h137.64M189.80,226.98h137.64M189.80,228.84h137.64" stroke="#fff" stroke-width="0.46" fill="none"/>
</g>
<rect x="234.44" y="183.7" width="1.86" height="45.64" fill="#fff"/>
<rect x="280.94" y="183.7" width="1.86" height="45.64" fill="#fff"/>
<clipPath id="hamclip2"><path d="M189.80,232.80H204.68V277.44H189.80ZM219.56,232.80H234.44V277.44H219.56ZM204.68,243.96H219.56V266.28H204.68ZM236.30,232.80H251.18V277.44H236.30ZM266.06,232.80H280.94V277.44H266.06ZM251.18,232.80H266.06V247.68H251.18ZM251.18,255.12H266.06V265.35H251.18ZM282.80,232.80H327.44V247.68H282.80ZM282.80,247.68H293.96V277.44H282.80ZM299.54,247.68H310.70V277.44H299.54ZM316.28,247.68H327.44V277.44H316.28Z"/></clipPath>
<g clip-path="url(#hamclip2)">
<rect x="189.8" y="232.8" width="137.64" height="44.64" fill="#2e948c"/>
<rect x="189.8" y="232.8" width="137.64" height="44.64" fill="url(#topblue)"/>
<circle cx="200" cy="252" r="12" fill="url(#grn)"/>
<circle cx="225" cy="258" r="11" fill="url(#grn)"/>
<circle cx="250" cy="252" r="11" fill="url(#grn)"/>
<circle cx="270" cy="262" r="8" fill="url(#grn)"/>
<circle cx="316" cy="265" r="7" fill="url(#grn)"/>
<circle cx="292" cy="268" r="6" fill="url(#grn)"/>
<circle cx="240" cy="240" r="6" fill="url(#grn)"/>
<circle cx="300" cy="241" r="9.5" fill="url(#yel)"/>
<path d="M189.80,232.80v44.64M191.66,232.80v44.64M193.52,232.80v44.64M195.38,232.80v44.64M197.24,232.80v44.64M199.10,232.80v44.64M200.96,232.80v44.64M202.82,232.80v44.64M204.68,232.80v44.64M206.54,232.80v44.64M208.40,232.80v44.64M210.26,232.80v44.64M212.12,232.80v44.64M213.98,232.80v44.64M215.84,232.80v44.64M217.70,232.80v44.64M219.56,232.80v44.64M221.42,232.80v44.64M223.28,232.80v44.64M225.14,232.80v44.64M227.00,232.80v44.64M228.86,232.80v44.64M230.72,232.80v44.64M232.58,232.80v44.64M234.44,232.80v44.64M236.30,232.80v44.64M238.16,232.80v44.64M240.02,232.80v44.64M241.88,232.80v44.64M243.74,232.80v44.64M245.60,232.80v44.64M247.46,232.80v44.64M249.32,232.80v44.64M251.18,232.80v44.64M253.04,232.80v44.64M254.90,232.80v44.64M256.76,232.80v44.64M258.62,232.80v44.64M260.48,232.80v44.64M262.34,232.80v44.64M264.20,232.80v44.64M266.06,232.80v44.64M267.92,232.80v44.64M269.78,232.80v44.64M271.64,232.80v44.64M273.50,232.80v44.64M275.36,232.80v44.64M277.22,232.80v44.64M279.08,232.80v44.64M280.94,232.80v44.64M282.80,232.80v44.64M284.66,232.80v44.64M286.52,232.80v44.64M288.38,232.80v44.64M290.24,232.80v44.64M292.10,232.80v44.64M293.96,232.80v44.64M295.82,232.80v44.64M297.68,232.80v44.64M299.54,232.80v44.64M301.40,232.80v44.64M303.26,232.80v44.64M305.12,232.80v44.64M306.98,232.80v44.64M308.84,232.80v44.64M310.70,232.80v44.64M312.56,232.80v44.64M314.42,232.80v44.64M316.28,232.80v44.64M318.14,232.80v44.64M320.00,232.80v44.64M321.86,232.80v44.64M323.72,232.80v44.64M325.58,232.80v44.64M327.44,232.80v44.64M189.80,232.80h137.64M189.80,234.66h137.64M189.80,236.52h137.64M189.80,238.38h137.64M189.80,240.24h137.64M189.80,242.10h137.64M189.80,243.96h137.64M189.80,245.82h137.64M189.80,247.68h137.64M189.80,249.54h137.64M189.80,251.40h137.64M189.80,253.26h137.64M189.80,255.12h137.64M189.80,256.98h137.64M189.80,258.84h137.64M189.80,260.70h137.64M189.80,262.56h137.64M189.80,264.42h137.64M189.80,266.28h137.64M189.80,268.14h137.64M189.80,270.00h137.64M189.80,271.86h137.64M189.80,273.72h137.64M189.80,275.58h137.64M189.80,277.44h137.64" stroke="#fff" stroke-width="0.46" fill="none"/>
</g>
<rect x="234.44" y="232.3" width="1.86" height="45.64" fill="#fff"/>
<rect x="280.94" y="232.3" width="1.86" height="45.64" fill="#fff"/>
<rect x="0.6" y="288.3" width="196" height="32.8" fill="#fff" stroke="#bbb" stroke-width="0.7"/>
<text x="3.0" y="301.1" font-size="7.95" text-anchor="start" stroke="#231f20" stroke-width="0.18" fill="#231f20">Calculated nucleation rate at 48.32 °C:</text>
<rect x="4.5" y="310.6" width="3.5" height="3.5" fill="#46176e" stroke="#666" stroke-width="0.3"/>
<text x="9.1" y="315.1" font-size="7.95" text-anchor="start" stroke="#231f20" stroke-width="0.18" fill="#231f20">10<tspan font-size="5.6" dy="-2.4">−20</tspan><tspan dy="2.4" dx="1.2">M</tspan><tspan dx="1.2">s</tspan><tspan font-size="5.6" dy="-2.4">−1</tspan></text>
<rect x="53.3" y="310.6" width="3.5" height="3.5" fill="#33658c" stroke="#666" stroke-width="0.3"/>
<text x="57.9" y="315.1" font-size="7.95" text-anchor="start" stroke="#231f20" stroke-width="0.18" fill="#231f20">10<tspan font-size="5.6" dy="-2.4">−16</tspan><tspan dy="2.4" dx="1.2">M</tspan><tspan dx="1.2">s</tspan><tspan font-size="5.6" dy="-2.4">−1</tspan></text>
<rect x="103.6" y="310.6" width="3.5" height="3.5" fill="#2fa676" stroke="#666" stroke-width="0.3"/>
<text x="108.19999999999999" y="315.1" font-size="7.95" text-anchor="start" stroke="#231f20" stroke-width="0.18" fill="#231f20">10<tspan font-size="5.6" dy="-2.4">−13</tspan><tspan dy="2.4" dx="1.2">M</tspan><tspan dx="1.2">s</tspan><tspan font-size="5.6" dy="-2.4">−1</tspan></text>
<rect x="152.4" y="310.6" width="3.5" height="3.5" fill="#e2d52b" stroke="#666" stroke-width="0.3"/>
<text x="157.0" y="315.1" font-size="7.95" text-anchor="start" stroke="#231f20" stroke-width="0.18" fill="#231f20">10<tspan font-size="5.6" dy="-2.4">−9</tspan><tspan dy="2.4" dx="1.2">M</tspan><tspan dx="1.2">s</tspan><tspan font-size="5.6" dy="-2.4">−1</tspan></text>
<line x1="169.1" y1="288" x2="184.6" y2="274.4" stroke="#666" stroke-width="0.75"/>
<path d="M186.6,272.6L182.6,273.9L184.8,276.4Z" fill="#666"/>
<rect x="206.9" y="288.3" width="123.5" height="32.8" fill="#fff" stroke="#bbb" stroke-width="0.7"/>
<text x="211.7" y="298.4" font-size="7.95" text-anchor="start" stroke="#231f20" stroke-width="0.18" fill="#231f20">Nucleation</text>
<text x="262.0" y="298.4" font-size="7.95" text-anchor="start" stroke="#231f20" stroke-width="0.18" fill="#231f20">Growth</text>
<text x="306.4" y="300.0" font-size="7.95" text-anchor="middle" stroke="#231f20" stroke-width="0.18" fill="#231f20">Anneal</text>
<text x="305.8" y="309.3" font-size="7.95" text-anchor="middle" stroke="#231f20" stroke-width="0.18" fill="#231f20">rate</text>
<line x1="214.7" y1="304.3" x2="243.2" y2="304.3" stroke="#d95f02" stroke-width="1.05" stroke-dasharray="6.8,4.4"/>
<line x1="214.7" y1="314.1" x2="243.2" y2="314.1" stroke="#1b9e77" stroke-width="1.05" stroke-dasharray="6.8,4.4"/>
<text x="249.8" y="306.9" font-size="7.95" text-anchor="start" stroke="#231f20" stroke-width="0.18" fill="#231f20">H</text>
<text x="249.8" y="316.8" font-size="7.95" text-anchor="start" stroke="#231f20" stroke-width="0.18" fill="#231f20">A</text>
<line x1="263.4" y1="304.3" x2="284.3" y2="304.3" stroke="#d95f02" stroke-width="1.05"/>
<line x1="263.4" y1="314.1" x2="284.3" y2="314.1" stroke="#1b9e77" stroke-width="1.05"/>
<line x1="296.0" y1="314.1" x2="314" y2="314.1" stroke="#999" stroke-width="0.9" stroke-dasharray="1.5,3.6"/>
<line x1="330.4" y1="302.4" x2="346" y2="302.4" stroke="#777" stroke-width="0.75"/>
<path d="M348.7,302.4L344.8,300.8L344.8,304.0Z" fill="#777"/>
<text x="336.8" y="18.5" font-size="10" text-anchor="start" font-weight="bold" stroke="#231f20" stroke-width="0.45" fill="#231f20">e</text>
<text x="413.7" y="10.600000000000001" font-size="8.0" text-anchor="middle" stroke="#231f20" stroke-width="0.18" fill="#231f20">A flag 9, <tspan font-style="italic">T</tspan> = 49.74 °C</text>
<path d="M370.5,21.2V93.5H449.7" fill="none" stroke="#333" stroke-width="0.85"/>
<line x1="370.5" y1="24.6" x2="374.3" y2="24.6" stroke="#333" stroke-width="0.75"/>
<text x="368.29999999999995" y="27.400000000000002" font-size="7.9" text-anchor="end" stroke="#231f20" stroke-width="0.18" fill="#231f20">50</text>
<line x1="370.5" y1="43.5" x2="374.3" y2="43.5" stroke="#333" stroke-width="0.75"/>
<text x="368.29999999999995" y="46.3" font-size="7.9" text-anchor="end" stroke="#231f20" stroke-width="0.18" fill="#231f20">25</text>
<line x1="370.5" y1="62.4" x2="374.3" y2="62.4" stroke="#333" stroke-width="0.75"/>
<text x="368.29999999999995" y="65.2" font-size="7.9" text-anchor="end" stroke="#231f20" stroke-width="0.18" fill="#231f20">0</text>
<line x1="370.5" y1="81.3" x2="374.3" y2="81.3" stroke="#333" stroke-width="0.75"/>
<text x="368.29999999999995" y="84.1" font-size="7.9" text-anchor="end" stroke="#231f20" stroke-width="0.18" fill="#231f20">−25</text>
<line x1="370.9" y1="93.5" x2="370.9" y2="89.7" stroke="#333" stroke-width="0.75"/>
<text x="370.9" y="101.7" font-size="7.9" text-anchor="middle" stroke="#231f20" stroke-width="0.18" fill="#231f20">0</text>
<line x1="410.3" y1="93.5" x2="410.3" y2="89.7" stroke="#333" stroke-width="0.75"/>
<text x="410.29999999999995" y="101.7" font-size="7.9" text-anchor="middle" stroke="#231f20" stroke-width="0.18" fill="#231f20">20</text>
<line x1="449.7" y1="93.5" x2="449.7" y2="89.7" stroke="#333" stroke-width="0.75"/>
<text x="449.7" y="101.7" font-size="7.9" text-anchor="middle" stroke="#231f20" stroke-width="0.18" fill="#231f20">40</text>
<text x="410.29999999999995" y="109.7" font-size="7.9" text-anchor="middle" stroke="#231f20" stroke-width="0.18" fill="#231f20">Assembly size</text>
<text x="343.09999999999997" y="57.79900000000001" font-size="7.9" text-anchor="middle" stroke="#231f20" stroke-width="0.18" fill="#231f20" transform="rotate(-90 343.09999999999997 57.79900000000001)">Macrostate</text>
<text x="351.7" y="57.79900000000001" font-size="7.9" text-anchor="middle" stroke="#231f20" stroke-width="0.18" fill="#231f20" transform="rotate(-90 351.7 57.79900000000001)">free energy <tspan font-style="italic">G</tspan> (RT)</text>
<clipPath id="clip_370_62"><rect x="370.9" y="21.198" width="80.80000000000001" height="72.202"/></clipPath>
<g clip-path="url(#clip_370_62)">
<polyline points="370.9,62.4 372.9,53.3 374.8,48.0 375.8,47.6 378.1,46.4 380.4,44.8 382.6,45.2 384.9,45.8 387.2,46.8 389.4,45.0 391.7,45.0 393.9,46.3 396.2,47.4 398.5,45.4 400.7,46.9 403.0,47.6 405.3,49.0 407.5,47.8 409.8,49.5 412.1,50.4 414.3,51.6 416.6,51.1 418.9,52.8 421.1,53.6 423.4,53.4 425.7,50.0 427.9,50.0 430.2,50.1 432.5,50.3 434.7,47.3 437.0,47.7 439.3,47.7 441.5,47.8 443.8,45.6 446.1,45.8 448.3,47.4" fill="none" stroke="#1b9e77" stroke-width="1.15" stroke-linejoin="round"/>
<polyline points="370.9,62.4 372.9,53.3 374.8,48.0 375.8,46.8 378.1,45.3 380.4,43.0 382.6,42.6 384.9,41.9 387.2,42.0 389.4,39.3 391.7,39.6 393.9,39.4 396.2,39.5 398.5,36.9 400.7,37.3 403.0,37.2 405.3,37.4 407.5,34.6 409.8,34.5 412.1,34.8 414.3,35.3 416.6,32.8 418.9,33.2 421.1,33.7 423.4,34.0 425.7,31.3 427.9,31.7 430.2,32.0 432.5,31.8 434.7,29.6 437.0,29.8 439.3,30.3 441.5,30.8 443.8,28.2 446.1,28.7 448.3,28.7" fill="none" stroke="#1f78b4" stroke-width="1.15" stroke-linejoin="round"/>
<polyline points="370.9,62.4 372.9,53.3 374.8,48.0 375.8,47.3 378.1,45.0 380.4,41.8 382.6,41.7 384.9,41.3 387.2,41.1 389.4,38.1 391.7,37.8 393.9,38.2 396.2,38.2 398.5,34.8 400.7,35.1 403.0,34.8 405.3,35.4 407.5,32.5 409.8,32.5 412.1,33.1 414.3,32.7 416.6,30.2 418.9,31.1 421.1,31.3 423.4,31.2 425.7,28.4 427.9,29.1 430.2,29.4 432.5,29.4 434.7,27.2 437.0,27.2 439.3,27.2 441.5,27.3 443.8,25.1 446.1,25.3 448.3,25.6" fill="none" stroke="#d95f02" stroke-width="1.15" stroke-linejoin="round"/>
</g>
<path d="M464.5,17.4V49.5H503.3" fill="none" stroke="#333" stroke-width="0.85"/>
<line x1="503.3" y1="49.5" x2="503.3" y2="46.0" stroke="#333" stroke-width="0.75"/>
<line x1="464.5" y1="18.3" x2="468.0" y2="18.3" stroke="#333" stroke-width="0.75"/>
<text x="463.29999999999995" y="21.1" font-size="7.9" text-anchor="end" stroke="#231f20" stroke-width="0.18" fill="#231f20">200</text>
<line x1="464.5" y1="47.6" x2="468.0" y2="47.6" stroke="#333" stroke-width="0.75"/>
<text x="463.29999999999995" y="50.4" font-size="7.9" text-anchor="end" stroke="#231f20" stroke-width="0.18" fill="#231f20">0</text>
<text x="466.09999999999997" y="57.2" font-size="7.9" text-anchor="middle" stroke="#231f20" stroke-width="0.18" fill="#231f20">0</text>
<text x="496.1" y="57.2" font-size="7.9" text-anchor="middle" stroke="#231f20" stroke-width="0.18" fill="#231f20">480</text>
<polyline points="464.9,44.7 467.0,42.0 469.8,40.1 473.0,39.3 476.4,39.4 480.0,39.8 484.7,40.1 489.0,39.4 493.0,38.1 498.0,36.6 502.9,34.5" fill="none" stroke="#d95f02" stroke-width="1.25" stroke-linejoin="round"/>
<polyline points="465.7,47.2 468.0,45.5 471.5,43.9 477.0,41.8 483.0,39.8 488.0,37.0 493.0,34.0 495.5,35.6 499.0,34.0 502.9,32.3" fill="none" stroke="#1b9e77" stroke-width="1.25" stroke-linejoin="round"/>
<polyline points="464.9,45.5 467.5,42.0 471.5,38.9 477.0,36.7 483.0,34.8 488.0,32.2 493.0,29.0 498.0,24.8 502.9,19.6" fill="none" stroke="#1f78b4" stroke-width="1.25" stroke-linejoin="round"/>
<rect x="465.8" y="58.8" width="41.2" height="41.2" fill="#262626"/>
<text x="589.9" y="10.600000000000001" font-size="8.0" text-anchor="middle" stroke="#231f20" stroke-width="0.18" fill="#231f20">A flag 9, <tspan font-style="italic">T</tspan> = 49.17 °C</text>
<path d="M547.5,21.2V93.5H625.9" fill="none" stroke="#333" stroke-width="0.85"/>
<line x1="547.5" y1="24.6" x2="551.3" y2="24.6" stroke="#333" stroke-width="0.75"/>
<text x="544.5" y="27.400000000000002" font-size="7.9" text-anchor="end" stroke="#231f20" stroke-width="0.18" fill="#231f20">50</text>
<line x1="547.5" y1="43.5" x2="551.3" y2="43.5" stroke="#333" stroke-width="0.75"/>
<text x="544.5" y="46.3" font-size="7.9" text-anchor="end" stroke="#231f20" stroke-width="0.18" fill="#231f20">25</text>
<line x1="547.5" y1="62.4" x2="551.3" y2="62.4" stroke="#333" stroke-width="0.75"/>
<text x="544.5" y="65.2" font-size="7.9" text-anchor="end" stroke="#231f20" stroke-width="0.18" fill="#231f20">0</text>
<line x1="547.5" y1="81.3" x2="551.3" y2="81.3" stroke="#333" stroke-width="0.75"/>
<text x="544.5" y="84.1" font-size="7.9" text-anchor="end" stroke="#231f20" stroke-width="0.18" fill="#231f20">−25</text>
<line x1="547.1" y1="93.5" x2="547.1" y2="89.7" stroke="#333" stroke-width="0.75"/>
<text x="547.1" y="101.7" font-size="7.9" text-anchor="middle" stroke="#231f20" stroke-width="0.18" fill="#231f20">0</text>
<line x1="586.5" y1="93.5" x2="586.5" y2="89.7" stroke="#333" stroke-width="0.75"/>
<text x="586.5" y="101.7" font-size="7.9" text-anchor="middle" stroke="#231f20" stroke-width="0.18" fill="#231f20">20</text>
<line x1="625.9" y1="93.5" x2="625.9" y2="89.7" stroke="#333" stroke-width="0.75"/>
<text x="625.9" y="101.7" font-size="7.9" text-anchor="middle" stroke="#231f20" stroke-width="0.18" fill="#231f20">40</text>
<text x="586.5" y="109.7" font-size="7.9" text-anchor="middle" stroke="#231f20" stroke-width="0.18" fill="#231f20">Assembly size</text>
<text x="519.3000000000001" y="57.79900000000001" font-size="7.9" text-anchor="middle" stroke="#231f20" stroke-width="0.18" fill="#231f20" transform="rotate(-90 519.3000000000001 57.79900000000001)">Macrostate</text>
<text x="527.9" y="57.79900000000001" font-size="7.9" text-anchor="middle" stroke="#231f20" stroke-width="0.18" fill="#231f20" transform="rotate(-90 527.9 57.79900000000001)">free energy <tspan font-style="italic">G</tspan> (RT)</text>
<clipPath id="clip_547_62"><rect x="547.1" y="21.198" width="80.79999999999995" height="72.202"/></clipPath>
<g clip-path="url(#clip_547_62)">
<polyline points="547.1,62.4 549.1,53.3 551.0,48.8 552.0,47.4 554.3,46.8 556.6,44.5 558.8,45.7 561.1,47.1 563.4,47.6 565.6,45.9 567.9,46.9 570.1,48.7 572.4,49.7 574.7,48.5 576.9,49.4 579.2,50.9 581.5,53.0 583.7,51.7 586.0,53.4 588.3,55.8 590.5,57.3 592.8,56.0 595.1,58.3 597.3,59.0 599.6,59.2 601.9,56.2 604.1,56.8 606.4,57.1 608.7,56.6 610.9,54.4 613.2,56.8 615.5,58.0 617.7,58.2 620.0,54.9 622.3,55.7 624.5,56.7" fill="none" stroke="#1b9e77" stroke-width="1.15" stroke-linejoin="round"/>
<polyline points="547.1,62.4 549.1,53.3 551.0,48.8 552.0,47.5 554.3,46.4 556.6,43.4 558.8,42.9 561.1,42.6 563.4,42.2 565.6,40.5 567.9,40.3 570.1,40.1 572.4,40.4 574.7,37.9 576.9,38.9 579.2,39.0 581.5,39.5 583.7,37.2 586.0,37.5 588.3,38.3 590.5,38.5 592.8,36.4 595.1,36.3 597.3,36.8 599.6,37.6 601.9,35.0 604.1,35.9 606.4,35.9 608.7,36.6 610.9,34.9 613.2,34.9 615.5,36.1 617.7,36.7 620.0,34.4 622.3,35.5 624.5,37.5" fill="none" stroke="#1f78b4" stroke-width="1.15" stroke-linejoin="round"/>
<polyline points="547.1,62.4 549.1,53.3 551.0,48.8 552.0,47.8 554.3,46.6 556.6,43.1 558.8,42.5 561.1,41.8 563.4,41.1 565.6,38.4 567.9,38.6 570.1,38.7 572.4,39.2 574.7,36.7 576.9,37.2 579.2,37.5 581.5,37.9 583.7,35.7 586.0,35.4 588.3,35.8 590.5,36.1 592.8,34.0 595.1,34.7 597.3,35.0 599.6,35.1 601.9,32.9 604.1,33.2 606.4,33.5 608.7,34.4 610.9,32.1 613.2,32.7 615.5,33.4 617.7,34.2 620.0,32.2 622.3,33.4 624.5,34.4" fill="none" stroke="#d95f02" stroke-width="1.15" stroke-linejoin="round"/>
</g>
<path d="M644.5,17.4V49.5H684.0" fill="none" stroke="#333" stroke-width="0.85"/>
<line x1="684.0" y1="49.5" x2="684.0" y2="46.0" stroke="#333" stroke-width="0.75"/>
<line x1="644.5" y1="27.9" x2="648.0" y2="27.9" stroke="#333" stroke-width="0.75"/>
<text x="642.9" y="30.7" font-size="7.9" text-anchor="end" stroke="#231f20" stroke-width="0.18" fill="#231f20">0</text>
<line x1="644.5" y1="39.8" x2="648.0" y2="39.8" stroke="#333" stroke-width="0.75"/>
<text x="642.9" y="42.599999999999994" font-size="7.9" text-anchor="end" stroke="#231f20" stroke-width="0.18" fill="#231f20">−50</text>
<text x="645.7" y="57.7" font-size="7.9" text-anchor="middle" stroke="#231f20" stroke-width="0.18" fill="#231f20">0</text>
<text x="676.8" y="57.7" font-size="7.9" text-anchor="middle" stroke="#231f20" stroke-width="0.18" fill="#231f20">480</text>
<polyline points="644.5,21.2 647.0,20.2 649.8,19.9 653.0,21.5 658.0,24.0 663.0,25.7 668.0,25.9 673.0,25.7 678.0,25.0 682.9,24.0" fill="none" stroke="#1f78b4" stroke-width="1.25" stroke-linejoin="round"/>
<polyline points="644.5,24.9 646.5,26.5 652.0,28.3 657.0,30.0 661.4,31.5 667.0,33.5 673.0,35.6 676.0,39.0 678.0,42.2 682.9,45.5" fill="none" stroke="#1b9e77" stroke-width="1.25" stroke-linejoin="round"/>
<polyline points="644.5,21.2 646.5,20.0 648.2,19.6 651.5,20.7 656.0,25.5 661.4,31.5 666.0,36.5 671.3,40.6 677.0,44.8 682.9,48.3" fill="none" stroke="#d95f02" stroke-width="1.25" stroke-linejoin="round"/>
<rect x="643.8" y="61.0" width="41.2" height="41.2" fill="#262626"/>
<path d="M-12,-12H-4V12H-12ZM4,-12H12V12H4ZM-4,-12H4V-4H-4ZM-4,0H4V5.5H-4Z" fill="#a3a3a3" transform="translate(670 70) rotate(-35) scale(0.375)"/>
<path d="M-12,-12H-4V12H-12ZM4,-12H12V12H4ZM-4,-12H4V-4H-4ZM-4,0H4V5.5H-4Z" fill="#a3a3a3" transform="translate(664 87.5) rotate(15) scale(0.375)"/>
<text x="413.7" y="125.0" font-size="8.0" text-anchor="middle" stroke="#231f20" stroke-width="0.18" fill="#231f20">A flag 9, <tspan font-style="italic">T</tspan> = 48.32 °C</text>
<path d="M370.5,127.7V199.5H449.7" fill="none" stroke="#333" stroke-width="0.85"/>
<line x1="370.5" y1="131.1" x2="374.3" y2="131.1" stroke="#333" stroke-width="0.75"/>
<text x="368.29999999999995" y="133.90000000000003" font-size="7.9" text-anchor="end" stroke="#231f20" stroke-width="0.18" fill="#231f20">50</text>
<line x1="370.5" y1="150.0" x2="374.3" y2="150.0" stroke="#333" stroke-width="0.75"/>
<text x="368.29999999999995" y="152.8" font-size="7.9" text-anchor="end" stroke="#231f20" stroke-width="0.18" fill="#231f20">25</text>
<line x1="370.5" y1="168.9" x2="374.3" y2="168.9" stroke="#333" stroke-width="0.75"/>
<text x="368.29999999999995" y="171.70000000000002" font-size="7.9" text-anchor="end" stroke="#231f20" stroke-width="0.18" fill="#231f20">0</text>
<line x1="370.5" y1="187.8" x2="374.3" y2="187.8" stroke="#333" stroke-width="0.75"/>
<text x="368.29999999999995" y="190.60000000000002" font-size="7.9" text-anchor="end" stroke="#231f20" stroke-width="0.18" fill="#231f20">−25</text>
<line x1="370.9" y1="199.5" x2="370.9" y2="195.7" stroke="#333" stroke-width="0.75"/>
<text x="370.9" y="208.20000000000002" font-size="7.9" text-anchor="middle" stroke="#231f20" stroke-width="0.18" fill="#231f20">0</text>
<line x1="410.3" y1="199.5" x2="410.3" y2="195.7" stroke="#333" stroke-width="0.75"/>
<text x="410.29999999999995" y="208.20000000000002" font-size="7.9" text-anchor="middle" stroke="#231f20" stroke-width="0.18" fill="#231f20">20</text>
<line x1="449.7" y1="199.5" x2="449.7" y2="195.7" stroke="#333" stroke-width="0.75"/>
<text x="449.7" y="208.20000000000002" font-size="7.9" text-anchor="middle" stroke="#231f20" stroke-width="0.18" fill="#231f20">40</text>
<text x="410.29999999999995" y="216.20000000000002" font-size="7.9" text-anchor="middle" stroke="#231f20" stroke-width="0.18" fill="#231f20">Assembly size</text>
<text x="343.09999999999997" y="164.299" font-size="7.9" text-anchor="middle" stroke="#231f20" stroke-width="0.18" fill="#231f20" transform="rotate(-90 343.09999999999997 164.299)">Macrostate</text>
<text x="351.7" y="164.299" font-size="7.9" text-anchor="middle" stroke="#231f20" stroke-width="0.18" fill="#231f20" transform="rotate(-90 351.7 164.299)">free energy <tspan font-style="italic">G</tspan> (RT)</text>
<clipPath id="clip_370_168"><rect x="370.9" y="127.69800000000001" width="80.80000000000001" height="72.202"/></clipPath>
<g clip-path="url(#clip_370_168)">
<polyline points="370.9,168.9 372.9,158.3 374.8,154.5 375.8,154.1 378.1,153.8 380.4,152.6 382.6,153.3 384.9,155.4 387.2,156.3 389.4,154.7 391.7,156.8 393.9,157.8 396.2,159.2 398.5,158.4 400.7,159.6 403.0,160.9 405.3,163.0 407.5,162.0 409.8,164.5 412.1,166.3 414.3,168.4 416.6,167.3 418.9,168.6 421.1,170.4 423.4,171.8 425.7,170.9 427.9,172.0 430.2,173.9 432.5,175.1 434.7,173.4 437.0,174.7 439.3,176.3 441.5,177.9 443.8,176.4 446.1,177.8 448.3,179.1" fill="none" stroke="#1b9e77" stroke-width="1.15" stroke-linejoin="round"/>
<polyline points="370.9,168.9 372.9,158.3 374.8,154.5 375.8,154.0 378.1,152.2 380.4,150.6 382.6,150.2 384.9,150.7 387.2,150.6 389.4,147.9 391.7,148.4 393.9,148.8 396.2,149.9 398.5,148.6 400.7,149.6 403.0,150.8 405.3,151.4 407.5,150.6 409.8,151.5 412.1,152.6 414.3,153.5 416.6,152.1 418.9,152.7 421.1,154.1 423.4,155.3 425.7,153.9 427.9,154.4 430.2,156.0 432.5,156.7 434.7,155.7 437.0,156.6 439.3,157.9 441.5,158.7 443.8,157.6 446.1,158.6 448.3,159.5" fill="none" stroke="#1f78b4" stroke-width="1.15" stroke-linejoin="round"/>
<polyline points="370.9,168.9 372.9,158.0 374.8,154.5 375.8,153.9 378.1,152.8 380.4,150.2 382.6,150.7 384.9,150.4 387.2,150.5 389.4,148.5 391.7,148.2 393.9,148.9 396.2,149.1 398.5,147.6 400.7,148.0 403.0,148.3 405.3,148.7 407.5,148.0 409.8,148.9 412.1,149.7 414.3,150.5 416.6,149.5 418.9,150.6 421.1,151.1 423.4,152.6 425.7,150.7 427.9,152.0 430.2,153.0 432.5,153.9 434.7,152.5 437.0,153.2 439.3,154.7 441.5,155.6 443.8,154.4 446.1,155.6 448.3,156.6" fill="none" stroke="#d95f02" stroke-width="1.15" stroke-linejoin="round"/>
</g>
<path d="M464.5,124.4V156.5H504.0" fill="none" stroke="#333" stroke-width="0.85"/>
<line x1="504.0" y1="156.5" x2="504.0" y2="153.0" stroke="#333" stroke-width="0.75"/>
<line x1="464.5" y1="127.5" x2="468.0" y2="127.5" stroke="#333" stroke-width="0.75"/>
<text x="462.79999999999995" y="130.3" font-size="7.9" text-anchor="end" stroke="#231f20" stroke-width="0.18" fill="#231f20">0</text>
<line x1="464.5" y1="147.0" x2="468.0" y2="147.0" stroke="#333" stroke-width="0.75"/>
<text x="462.79999999999995" y="149.8" font-size="7.9" text-anchor="end" stroke="#231f20" stroke-width="0.18" fill="#231f20">−250</text>
<text x="465.59999999999997" y="164.0" font-size="7.9" text-anchor="middle" stroke="#231f20" stroke-width="0.18" fill="#231f20">0</text>
<text x="496.8" y="164.0" font-size="7.9" text-anchor="middle" stroke="#231f20" stroke-width="0.18" fill="#231f20">480</text>
<polyline points="464.5,125.0 470.0,128.5 480.0,134.5 490.0,140.5 502.7,146.6" fill="none" stroke="#1f78b4" stroke-width="1.25" stroke-linejoin="round"/>
<polyline points="464.5,126.5 470.0,130.0 480.0,136.5 488.0,142.0 493.7,146.5 498.0,150.5 504.0,154.5" fill="none" stroke="#1b9e77" stroke-width="1.25" stroke-linejoin="round"/>
<polyline points="464.5,124.8 468.0,126.0 475.0,130.5 485.0,138.5 495.0,147.0 504.0,155.5" fill="none" stroke="#d95f02" stroke-width="1.25" stroke-linejoin="round"/>
<rect x="463.3" y="167.8" width="40.6" height="40.6" fill="#262626"/>
<path d="M-12,-12H-4V12H-12ZM4,-12H12V12H4ZM-4,-12H4V-4H-4ZM-4,0H4V5.5H-4Z" fill="#a3a3a3" transform="translate(478.7 179) rotate(-30) scale(0.375)"/>
<path d="M-12,-12H-4V12H-12ZM4,-12H12V12H4ZM-4,-12H4V-4H-4ZM-4,0H4V5.5H-4Z" fill="#a3a3a3" transform="translate(493 190) rotate(-120) scale(0.396)"/>
<path d="M-12,-12H-4V12H-12ZM4,-12H12V12H4ZM-4,-12H4V-4H-4ZM-4,0H4V5.5H-4Z" fill="#a3a3a3" transform="translate(476.6 197) rotate(180) scale(0.354)"/>
<text x="589.9" y="125.0" font-size="8.0" text-anchor="middle" stroke="#231f20" stroke-width="0.18" fill="#231f20">A flag 9, <tspan font-style="italic">T</tspan> = 45.52 °C</text>
<path d="M547.5,127.7V199.5H625.9" fill="none" stroke="#333" stroke-width="0.85"/>
<line x1="547.5" y1="131.1" x2="551.3" y2="131.1" stroke="#333" stroke-width="0.75"/>
<text x="544.5" y="133.90000000000003" font-size="7.9" text-anchor="end" stroke="#231f20" stroke-width="0.18" fill="#231f20">50</text>
<line x1="547.5" y1="150.0" x2="551.3" y2="150.0" stroke="#333" stroke-width="0.75"/>
<text x="544.5" y="152.8" font-size="7.9" text-anchor="end" stroke="#231f20" stroke-width="0.18" fill="#231f20">25</text>
<line x1="547.5" y1="168.9" x2="551.3" y2="168.9" stroke="#333" stroke-width="0.75"/>
<text x="544.5" y="171.70000000000002" font-size="7.9" text-anchor="end" stroke="#231f20" stroke-width="0.18" fill="#231f20">0</text>
<line x1="547.5" y1="187.8" x2="551.3" y2="187.8" stroke="#333" stroke-width="0.75"/>
<text x="544.5" y="190.60000000000002" font-size="7.9" text-anchor="end" stroke="#231f20" stroke-width="0.18" fill="#231f20">−25</text>
<line x1="547.1" y1="199.5" x2="547.1" y2="195.7" stroke="#333" stroke-width="0.75"/>
<text x="547.1" y="208.20000000000002" font-size="7.9" text-anchor="middle" stroke="#231f20" stroke-width="0.18" fill="#231f20">0</text>
<line x1="586.5" y1="199.5" x2="586.5" y2="195.7" stroke="#333" stroke-width="0.75"/>
<text x="586.5" y="208.20000000000002" font-size="7.9" text-anchor="middle" stroke="#231f20" stroke-width="0.18" fill="#231f20">20</text>
<line x1="625.9" y1="199.5" x2="625.9" y2="195.7" stroke="#333" stroke-width="0.75"/>
<text x="625.9" y="208.20000000000002" font-size="7.9" text-anchor="middle" stroke="#231f20" stroke-width="0.18" fill="#231f20">40</text>
<text x="586.5" y="216.20000000000002" font-size="7.9" text-anchor="middle" stroke="#231f20" stroke-width="0.18" fill="#231f20">Assembly size</text>
<text x="519.3000000000001" y="164.299" font-size="7.9" text-anchor="middle" stroke="#231f20" stroke-width="0.18" fill="#231f20" transform="rotate(-90 519.3000000000001 164.299)">Macrostate</text>
<text x="527.9" y="164.299" font-size="7.9" text-anchor="middle" stroke="#231f20" stroke-width="0.18" fill="#231f20" transform="rotate(-90 527.9 164.299)">free energy <tspan font-style="italic">G</tspan> (RT)</text>
<clipPath id="clip_547_168"><rect x="547.1" y="127.69800000000001" width="80.79999999999995" height="72.202"/></clipPath>
<g clip-path="url(#clip_547_168)">
<polyline points="547.1,168.9 549.1,159.1 551.0,155.7 552.0,155.2 554.3,156.2 556.6,156.2 558.8,158.8 561.1,161.1 563.4,163.4 565.6,164.3 567.9,167.0 570.1,170.1 572.4,173.2 574.7,173.7 576.9,176.4 579.2,179.5 581.5,182.0 583.7,183.0 586.0,185.7 588.3,189.5 590.5,193.4 592.8,197.4 595.1,203.1 597.3,203.9 599.6,204.4 601.9,202.4 604.1,203.5 606.4,204.1 608.7,204.1 610.9,202.6 613.2,203.5 615.5,203.4 617.7,204.0 620.0,202.9 622.3,203.3 624.5,204.0" fill="none" stroke="#1b9e77" stroke-width="1.15" stroke-linejoin="round"/>
<polyline points="547.1,168.9 549.1,158.3 551.0,154.5 552.0,154.1 554.3,153.6 556.6,152.5 558.8,154.5 561.1,156.1 563.4,157.6 565.6,157.1 567.9,158.6 570.1,160.7 572.4,162.8 574.7,163.1 576.9,165.2 579.2,167.5 581.5,169.3 583.7,169.4 586.0,172.2 588.3,173.9 590.5,176.3 592.8,176.4 595.1,178.6 597.3,181.1 599.6,183.4 601.9,182.8 604.1,185.3 606.4,188.5 608.7,191.8 610.9,192.9 613.2,196.0 615.5,199.4 617.7,202.3 620.0,201.0 622.3,201.6 624.5,202.3" fill="none" stroke="#1f78b4" stroke-width="1.15" stroke-linejoin="round"/>
<polyline points="547.1,168.9 549.1,158.0 551.0,154.5 552.0,154.0 554.3,153.7 556.6,152.6 558.8,154.4 561.1,155.4 563.4,156.9 565.6,156.1 567.9,158.1 570.1,160.0 572.4,162.3 574.7,162.1 576.9,163.8 579.2,166.0 581.5,169.0 583.7,168.3 586.0,170.9 588.3,173.4 590.5,175.9 592.8,175.4 595.1,177.8 597.3,179.7 599.6,181.9 601.9,182.0 604.1,183.7 606.4,186.9 608.7,190.3 610.9,191.5 613.2,195.3 615.5,198.7 617.7,202.0 620.0,200.0 622.3,201.1 624.5,201.6" fill="none" stroke="#d95f02" stroke-width="1.15" stroke-linejoin="round"/>
</g>
<path d="M644.5,124.0V156.5H684.0" fill="none" stroke="#333" stroke-width="0.85"/>
<line x1="684.0" y1="156.5" x2="684.0" y2="153.0" stroke="#333" stroke-width="0.75"/>
<line x1="644.5" y1="126.2" x2="648.0" y2="126.2" stroke="#333" stroke-width="0.75"/>
<text x="642.9" y="129.0" font-size="7.9" text-anchor="end" stroke="#231f20" stroke-width="0.18" fill="#231f20">0</text>
<line x1="644.5" y1="146.7" x2="648.0" y2="146.7" stroke="#333" stroke-width="0.75"/>
<text x="642.9" y="149.5" font-size="7.9" text-anchor="end" stroke="#231f20" stroke-width="0.18" fill="#231f20">−500</text>
<text x="645.7" y="164.0" font-size="7.9" text-anchor="middle" stroke="#231f20" stroke-width="0.18" fill="#231f20">0</text>
<text x="676.8" y="164.0" font-size="7.9" text-anchor="middle" stroke="#231f20" stroke-width="0.18" fill="#231f20">480</text>
<polyline points="644.5,125.5 667.0,155.5" fill="none" stroke="#1b9e77" stroke-width="1.25" stroke-linejoin="round"/>
<polyline points="644.5,125.5 669.3,155.5" fill="none" stroke="#1f78b4" stroke-width="1.25" stroke-linejoin="round"/>
<polyline points="644.5,125.2 668.2,155.5" fill="none" stroke="#d95f02" stroke-width="1.25" stroke-linejoin="round"/>
<rect x="643.9" y="167.8" width="40.5" height="40.5" fill="#262626"/>
<path d="M-12,-12H-4V12H-12ZM4,-12H12V12H4ZM-4,-12H4V-4H-4ZM-4,0H4V5.5H-4Z" fill="#a3a3a3" transform="translate(651.7 176.5) rotate(35) scale(0.354)"/>
<path d="M-12,-12H12V-4H-12ZM-12,-4H-6V12H-12ZM-3,-4H3V12H-3ZM6,-4H12V12H6Z" fill="#a3a3a3" transform="translate(665.4 174.4) rotate(-15) scale(0.354)"/>
<path d="M-12,-12H-4V12H-12ZM4,-12H12V12H4ZM-4,-6H4V6H-4Z" fill="#a3a3a3" transform="translate(677.5 176.7) rotate(40) scale(0.354)"/>
<path d="M-12,-12H-4V12H-12ZM4,-12H12V12H4ZM-4,-6H4V6H-4Z" fill="#a3a3a3" transform="translate(674.7 186.5) rotate(-40) scale(0.354)"/>
<path d="M-12,-12H-4V12H-12ZM4,-12H12V12H4ZM-4,-12H4V-4H-4ZM-4,0H4V5.5H-4Z" fill="#a3a3a3" transform="translate(648.9 191) rotate(90) scale(0.333)"/>
<path d="M-12,-12H-4V12H-12ZM4,-12H12V12H4ZM-4,-6H4V6H-4Z" fill="#a3a3a3" transform="translate(651.3 202.2) rotate(-40) scale(0.354)"/>
<path d="M-12,-12H12V-4H-12ZM-12,-4H-6V12H-12ZM-3,-4H3V12H-3ZM6,-4H12V12H6Z" fill="#a3a3a3" transform="translate(664.6 200.2) rotate(-15) scale(0.333)"/>
<path d="M-12,-12H-4V12H-12ZM4,-12H12V12H4ZM-4,-6H4V6H-4Z" fill="#a3a3a3" transform="translate(677 199.5) rotate(-30) scale(0.354)"/>
<text x="336.3" y="230.5" font-size="10.5" text-anchor="start" font-weight="bold" stroke="#231f20" stroke-width="0.45" fill="#231f20">f</text>
<path d="M366.5,224.2V310.5H515" fill="none" stroke="#333" stroke-width="0.85"/>
<line x1="366.5" y1="310.4" x2="370.3" y2="310.4" stroke="#333" stroke-width="0.75"/>
<text x="363.4" y="313.2" font-size="7.9" text-anchor="end" stroke="#231f20" stroke-width="0.18" fill="#231f20">0</text>
<line x1="366.5" y1="280.9" x2="370.3" y2="280.9" stroke="#333" stroke-width="0.75"/>
<text x="363.4" y="283.7" font-size="7.9" text-anchor="end" stroke="#231f20" stroke-width="0.18" fill="#231f20">0.1</text>
<line x1="366.5" y1="251.4" x2="370.3" y2="251.4" stroke="#333" stroke-width="0.75"/>
<text x="363.4" y="254.2" font-size="7.9" text-anchor="end" stroke="#231f20" stroke-width="0.18" fill="#231f20">0.2</text>
<line x1="383.3" y1="310.5" x2="383.3" y2="306.7" stroke="#333" stroke-width="0.75"/>
<text x="383.3" y="319.6" font-size="7.9" text-anchor="middle" stroke="#231f20" stroke-width="0.18" fill="#231f20">48</text>
<line x1="414.1" y1="310.5" x2="414.1" y2="306.7" stroke="#333" stroke-width="0.75"/>
<text x="414.1" y="319.6" font-size="7.9" text-anchor="middle" stroke="#231f20" stroke-width="0.18" fill="#231f20">49</text>
<line x1="444.9" y1="310.5" x2="444.9" y2="306.7" stroke="#333" stroke-width="0.75"/>
<text x="444.90000000000003" y="319.6" font-size="7.9" text-anchor="middle" stroke="#231f20" stroke-width="0.18" fill="#231f20">50</text>
<line x1="475.7" y1="310.5" x2="475.7" y2="306.7" stroke="#333" stroke-width="0.75"/>
<text x="475.70000000000005" y="319.6" font-size="7.9" text-anchor="middle" stroke="#231f20" stroke-width="0.18" fill="#231f20">51</text>
<line x1="506.5" y1="310.5" x2="506.5" y2="306.7" stroke="#333" stroke-width="0.75"/>
<text x="506.5" y="319.6" font-size="7.9" text-anchor="middle" stroke="#231f20" stroke-width="0.18" fill="#231f20">52</text>
<text x="441.5" y="330.2" font-size="7.9" text-anchor="middle" stroke="#231f20" stroke-width="0.18" fill="#231f20">Temperature (°C)</text>
<text x="348.3" y="269.0" font-size="7.9" text-anchor="middle" stroke="#231f20" stroke-width="0.18" fill="#231f20" transform="rotate(-90 348.3 269.0)">Completion (h<tspan font-size="5.6" dy="-3">−1</tspan><tspan dy="3">)</tspan></text>
<line x1="366.5" y1="242.2" x2="515" y2="242.2" stroke="#444" stroke-width="0.7" stroke-dasharray="2.2,1.5"/>
<polyline points="377.4,224.4 378.4,224.8 379.8,225.5 381.6,226.2 383.8,227.1 386.1,228.1 388.6,229.2 391.2,230.3 393.6,231.6 395.9,232.8 398.2,234.2 400.5,235.6 402.8,237.2 405.1,238.8 407.4,240.5 409.6,242.1 411.6,243.7 413.5,245.2 415.2,246.6 416.7,247.9 418.0,249.1 419.3,250.3 420.5,251.5 421.7,252.8 423.0,254.3 424.3,255.8 425.6,257.6 427.0,259.5 428.4,261.5 429.7,263.6 431.1,265.7 432.4,267.8 433.6,269.8 434.7,271.8 435.8,273.6 436.8,275.4 437.7,277.1 438.6,278.8 439.4,280.6 440.2,282.3 441.0,284.1 441.8,285.9 442.6,287.9 443.4,289.9 444.2,292.1 444.9,294.2 445.6,296.3 446.3,298.3 446.9,300.2 447.4,301.8 447.8,303.3 448.1,304.7 448.4,306.0 448.6,307.1 448.8,308.1 449.0,309.0 449.1,309.8 449.2,310.4" fill="none" stroke="#1b9e77" stroke-width="1.25"/>
<polyline points="374.6,224.4 375.6,224.8 377.0,225.5 378.9,226.2 381.0,227.1 383.4,228.1 385.9,229.2 388.4,230.3 390.9,231.6 393.2,232.8 395.4,234.2 397.7,235.6 400.0,237.2 402.4,238.8 404.6,240.5 406.8,242.1 408.8,243.7 410.7,245.2 412.4,246.6 413.9,247.9 415.3,249.1 416.5,250.3 417.8,251.5 419.0,252.8 420.2,254.3 421.5,255.8 422.8,257.6 424.2,259.5 425.6,261.5 427.0,263.6 428.3,265.7 429.6,267.8 430.8,269.8 432.0,271.8 433.0,273.6 434.0,275.4 434.9,277.1 435.8,278.8 436.7,280.6 437.5,282.3 438.3,284.1 439.0,285.9 439.8,287.9 440.6,289.9 441.4,292.1 442.1,294.2 442.9,296.3 443.5,298.3 444.1,300.2 444.6,301.8 445.0,303.3 445.4,304.7 445.6,306.0 445.9,307.1 446.0,308.1 446.2,309.0 446.3,309.8 446.4,310.4" fill="none" stroke="#d95f02" stroke-width="1.25"/>
<path d="M393.6,224.3L393.9,270C394.3,290 396,302 399,306.5C401,309 403,310 405.7,310.4" fill="none" stroke="#d95f02" stroke-width="1.1" stroke-dasharray="9,3"/>
<path d="M456.3,224.3L456.6,290C457,300 458.5,306 461,308.6C462.5,310 463.5,310.3 465.5,310.4" fill="none" stroke="#1b9e77" stroke-width="1.1" stroke-dasharray="9,3"/>
<text x="425.4" y="232.3" font-size="7.9" text-anchor="start" stroke="#231f20" stroke-width="0.18" fill="#231f20">Faster</text>
<text x="425.4" y="241.0" font-size="7.9" text-anchor="start" stroke="#231f20" stroke-width="0.18" fill="#231f20">growth</text>
<text x="425.4" y="249.70000000000002" font-size="7.9" text-anchor="start" stroke="#231f20" stroke-width="0.18" fill="#231f20">more</text>
<text x="425.4" y="258.40000000000003" font-size="7.9" text-anchor="start" stroke="#231f20" stroke-width="0.18" fill="#231f20">WTA</text>
<line x1="422.2" y1="254.2" x2="422.2" y2="236" stroke="#111" stroke-width="0.7"/>
<path d="M420.7,236.5L422.2,232.4L423.7,236.5Z" fill="#111"/>
<text x="460.6" y="251.4" font-size="7.9" text-anchor="start" stroke="#231f20" stroke-width="0.18" fill="#231f20">Slower anneal</text>
<text x="460.6" y="259.9" font-size="7.9" text-anchor="start" stroke="#231f20" stroke-width="0.18" fill="#231f20">more WTA</text>
<line x1="512.8" y1="243.9" x2="512.8" y2="261" stroke="#111" stroke-width="0.7"/>
<path d="M511.3,260.6L512.8,264.7L514.3,260.6Z" fill="#111"/>
<line x1="458.2" y1="269.8" x2="475.5" y2="269.8" stroke="#111" stroke-width="0.7"/>
<path d="M475,268.3L479,269.8L475,271.3Z" fill="#111"/>
<text x="461.0" y="280.2" font-size="7.9" text-anchor="start" stroke="#231f20" stroke-width="0.18" fill="#231f20">More</text>
<text x="461.0" y="288.6" font-size="7.9" text-anchor="start" stroke="#231f20" stroke-width="0.18" fill="#231f20">enhancement</text>
<text x="461.0" y="297.2" font-size="7.9" text-anchor="start" stroke="#231f20" stroke-width="0.18" fill="#231f20">more WTA</text>
<text x="524.2" y="229.8" font-size="10.3" text-anchor="start" font-weight="bold" stroke="#231f20" stroke-width="0.45" fill="#231f20">g</text>
<path d="M547.5,224.0V308.5H676.6" fill="none" stroke="#333" stroke-width="0.85"/>
<line x1="547.5" y1="228.5" x2="551.5" y2="228.5" stroke="#333" stroke-width="0.75"/>
<text x="545.0" y="231.3" font-size="7.9" text-anchor="end" stroke="#231f20" stroke-width="0.18" fill="#231f20">1.0</text>
<line x1="547.5" y1="259.3" x2="551.5" y2="259.3" stroke="#333" stroke-width="0.75"/>
<text x="545.0" y="262.1" font-size="7.9" text-anchor="end" stroke="#231f20" stroke-width="0.18" fill="#231f20">0.8</text>
<line x1="547.5" y1="290.1" x2="551.5" y2="290.1" stroke="#333" stroke-width="0.75"/>
<text x="545.0" y="292.90000000000003" font-size="7.9" text-anchor="end" stroke="#231f20" stroke-width="0.18" fill="#231f20">0.6</text>
<line x1="578.0" y1="308.5" x2="578.0" y2="304.7" stroke="#333" stroke-width="0.75"/>
<text x="578.0" y="319.7" font-size="7.9" text-anchor="middle" stroke="#231f20" stroke-width="0.18" fill="#231f20">2</text>
<line x1="626.0" y1="308.5" x2="626.0" y2="304.7" stroke="#333" stroke-width="0.75"/>
<text x="626.0" y="319.7" font-size="7.9" text-anchor="middle" stroke="#231f20" stroke-width="0.18" fill="#231f20">4</text>
<line x1="674.0" y1="308.5" x2="674.0" y2="304.7" stroke="#333" stroke-width="0.75"/>
<text x="674.0" y="319.7" font-size="7.9" text-anchor="middle" stroke="#231f20" stroke-width="0.18" fill="#231f20">6</text>
<text x="615.5" y="330.0" font-size="7.9" text-anchor="middle" stroke="#231f20" stroke-width="0.18" fill="#231f20">Enhancement (<tspan font-style="italic">c</tspan><tspan font-size="5.6" dy="1.6">High</tspan><tspan dy="-1.6">/</tspan><tspan font-style="italic">c</tspan><tspan font-size="5.6" dy="1.6">Low</tspan><tspan dy="-1.6">)</tspan></text>
<text x="530.0" y="267.3" font-size="7.9" text-anchor="middle" stroke="#231f20" stroke-width="0.18" fill="#231f20" transform="rotate(-90 530.0 267.3)">Selectivity</text>
<text x="671.6" y="224.9" font-size="7.9" text-anchor="end" stroke="#231f20" stroke-width="0.18" fill="#231f20">Shared tiles</text>
<text x="673.7" y="295.5" font-size="7.9" text-anchor="end" stroke="#231f20" stroke-width="0.18" fill="#231f20">No shared tiles</text>
<line x1="617.2" y1="254.6" x2="634.5" y2="254.6" stroke="#111" stroke-width="0.9"/>
<text x="638.2" y="258.5" font-size="7.9" text-anchor="start" stroke="#231f20" stroke-width="0.18" fill="#231f20">100 h ramp</text>
<line x1="617.2" y1="266.5" x2="634.5" y2="266.5" stroke="#111" stroke-width="0.9" stroke-dasharray="2.9,2.6"/>
<text x="638.2" y="269.2" font-size="7.9" text-anchor="start" stroke="#231f20" stroke-width="0.18" fill="#231f20">25 h ramp</text>
<polyline points="554.0,304.7 556.4,303.8 559.0,302.8 561.8,301.7 565.0,300.5 568.5,300.1 572.3,300.1 576.4,300.1 581.0,300.1 586.1,300.1 591.6,300.1 597.7,300.1 604.4,300.1 611.8,300.1 619.9,300.1 628.8,300.1 638.5,300.1 649.2,300.1 661.0,300.1 674.0,300.1" fill="none" stroke="#fb9a50" stroke-width="0.9" stroke-dasharray="2.6,2"/>
<circle cx="554.0" cy="304.7" r="1.55" fill="#fb9a50"/>
<circle cx="556.4" cy="303.8" r="1.55" fill="#fb9a50"/>
<circle cx="559.0" cy="302.8" r="1.55" fill="#fb9a50"/>
<circle cx="561.8" cy="301.7" r="1.55" fill="#fb9a50"/>
<circle cx="565.0" cy="300.5" r="1.55" fill="#fb9a50"/>
<circle cx="568.5" cy="300.1" r="1.55" fill="#fb9a50"/>
<circle cx="572.3" cy="300.1" r="1.55" fill="#fb9a50"/>
<circle cx="576.4" cy="300.1" r="1.55" fill="#fb9a50"/>
<circle cx="581.0" cy="300.1" r="1.55" fill="#fb9a50"/>
<circle cx="586.1" cy="300.1" r="1.55" fill="#fb9a50"/>
<circle cx="591.6" cy="300.1" r="1.55" fill="#fb9a50"/>
<circle cx="597.7" cy="300.1" r="1.55" fill="#fb9a50"/>
<circle cx="604.4" cy="300.1" r="1.55" fill="#fb9a50"/>
<circle cx="611.8" cy="300.1" r="1.55" fill="#fb9a50"/>
<circle cx="619.9" cy="300.1" r="1.55" fill="#fb9a50"/>
<circle cx="628.8" cy="300.1" r="1.55" fill="#fb9a50"/>
<circle cx="638.5" cy="300.1" r="1.55" fill="#fb9a50"/>
<circle cx="649.2" cy="300.1" r="1.55" fill="#fb9a50"/>
<circle cx="661.0" cy="300.1" r="1.55" fill="#fb9a50"/>
<circle cx="674.0" cy="300.1" r="1.55" fill="#fb9a50"/>
<polyline points="554.0,304.7 556.4,304.5 559.0,304.3 561.8,304.0 565.0,304.0 568.5,304.0 572.3,304.0 576.4,304.0 581.0,304.0 586.1,304.0 591.6,304.0 597.7,304.0 604.4,304.0 611.8,304.0 619.9,304.0 628.8,304.0 638.5,304.0 649.2,304.0 661.0,304.0 674.0,304.0" fill="none" stroke="#fb9a50" stroke-width="0.9"/>
<circle cx="554.0" cy="304.7" r="1.55" fill="#fb9a50"/>
<circle cx="556.4" cy="304.5" r="1.55" fill="#fb9a50"/>
<circle cx="559.0" cy="304.3" r="1.55" fill="#fb9a50"/>
<circle cx="561.8" cy="304.0" r="1.55" fill="#fb9a50"/>
<circle cx="565.0" cy="304.0" r="1.55" fill="#fb9a50"/>
<circle cx="568.5" cy="304.0" r="1.55" fill="#fb9a50"/>
<circle cx="572.3" cy="304.0" r="1.55" fill="#fb9a50"/>
<circle cx="576.4" cy="304.0" r="1.55" fill="#fb9a50"/>
<circle cx="581.0" cy="304.0" r="1.55" fill="#fb9a50"/>
<circle cx="586.1" cy="304.0" r="1.55" fill="#fb9a50"/>
<circle cx="591.6" cy="304.0" r="1.55" fill="#fb9a50"/>
<circle cx="597.7" cy="304.0" r="1.55" fill="#fb9a50"/>
<circle cx="604.4" cy="304.0" r="1.55" fill="#fb9a50"/>
<circle cx="611.8" cy="304.0" r="1.55" fill="#fb9a50"/>
<circle cx="619.9" cy="304.0" r="1.55" fill="#fb9a50"/>
<circle cx="628.8" cy="304.0" r="1.55" fill="#fb9a50"/>
<circle cx="638.5" cy="304.0" r="1.55" fill="#fb9a50"/>
<circle cx="649.2" cy="304.0" r="1.55" fill="#fb9a50"/>
<circle cx="661.0" cy="304.0" r="1.55" fill="#fb9a50"/>
<circle cx="674.0" cy="304.0" r="1.55" fill="#fb9a50"/>
<polyline points="554.0,304.7 556.4,291.6 559.0,283.2 561.8,274.7 565.0,267.0 568.5,259.3 572.3,253.1 576.4,247.0 581.0,240.8 586.1,236.2 591.6,232.0 597.7,229.6 604.4,228.5 611.8,228.5 619.9,228.5 628.8,228.5 638.5,228.5 649.2,228.5 661.0,228.5 674.0,228.5" fill="none" stroke="#7b0d80" stroke-width="1.2" stroke-dasharray="2.6,2"/>
<circle cx="556.4" cy="291.6" r="1.6" fill="#7b0d80"/>
<circle cx="559.0" cy="283.2" r="1.6" fill="#7b0d80"/>
<circle cx="561.8" cy="274.7" r="1.6" fill="#7b0d80"/>
<circle cx="565.0" cy="267.0" r="1.6" fill="#7b0d80"/>
<circle cx="568.5" cy="259.3" r="1.6" fill="#7b0d80"/>
<circle cx="572.3" cy="253.1" r="1.6" fill="#7b0d80"/>
<circle cx="576.4" cy="247.0" r="1.6" fill="#7b0d80"/>
<circle cx="581.0" cy="240.8" r="1.6" fill="#7b0d80"/>
<circle cx="586.1" cy="236.2" r="1.6" fill="#7b0d80"/>
<circle cx="591.6" cy="232.0" r="1.6" fill="#7b0d80"/>
<circle cx="597.7" cy="229.6" r="1.6" fill="#7b0d80"/>
<circle cx="604.4" cy="228.5" r="1.6" fill="#7b0d80"/>
<circle cx="611.8" cy="228.5" r="1.6" fill="#7b0d80"/>
<circle cx="619.9" cy="228.5" r="1.6" fill="#7b0d80"/>
<circle cx="628.8" cy="228.5" r="1.6" fill="#7b0d80"/>
<circle cx="638.5" cy="228.5" r="1.6" fill="#7b0d80"/>
<circle cx="649.2" cy="228.5" r="1.6" fill="#7b0d80"/>
<circle cx="661.0" cy="228.5" r="1.6" fill="#7b0d80"/>
<circle cx="674.0" cy="228.5" r="1.6" fill="#7b0d80"/>
<polyline points="554.0,304.7 556.4,283.9 559.0,265.5 561.8,251.6 565.0,240.0 568.5,232.3 572.3,228.5 576.4,228.5 581.0,228.5 586.1,228.5 591.6,228.5 597.7,228.5 604.4,228.5 611.8,228.5 619.9,228.5 628.8,228.5 638.5,228.5 649.2,228.5 661.0,228.5 674.0,228.5" fill="none" stroke="#7b0d80" stroke-width="1.2"/>
<circle cx="556.4" cy="283.9" r="1.6" fill="#7b0d80"/>
<circle cx="559.0" cy="265.5" r="1.6" fill="#7b0d80"/>
<circle cx="561.8" cy="251.6" r="1.6" fill="#7b0d80"/>
<circle cx="565.0" cy="240.0" r="1.6" fill="#7b0d80"/>
<circle cx="568.5" cy="232.3" r="1.6" fill="#7b0d80"/>
<circle cx="572.3" cy="228.5" r="1.6" fill="#7b0d80"/>
<circle cx="576.4" cy="228.5" r="1.6" fill="#7b0d80"/>
<circle cx="581.0" cy="228.5" r="1.6" fill="#7b0d80"/>
<circle cx="586.1" cy="228.5" r="1.6" fill="#7b0d80"/>
<circle cx="591.6" cy="228.5" r="1.6" fill="#7b0d80"/>
<circle cx="597.7" cy="228.5" r="1.6" fill="#7b0d80"/>
<circle cx="604.4" cy="228.5" r="1.6" fill="#7b0d80"/>
<circle cx="611.8" cy="228.5" r="1.6" fill="#7b0d80"/>
<circle cx="619.9" cy="228.5" r="1.6" fill="#7b0d80"/>
<circle cx="628.8" cy="228.5" r="1.6" fill="#7b0d80"/>
<circle cx="638.5" cy="228.5" r="1.6" fill="#7b0d80"/>
<circle cx="649.2" cy="228.5" r="1.6" fill="#7b0d80"/>
<circle cx="661.0" cy="228.5" r="1.6" fill="#7b0d80"/>
<circle cx="674.0" cy="228.5" r="1.6" fill="#7b0d80"/>
</svg></body></html>
